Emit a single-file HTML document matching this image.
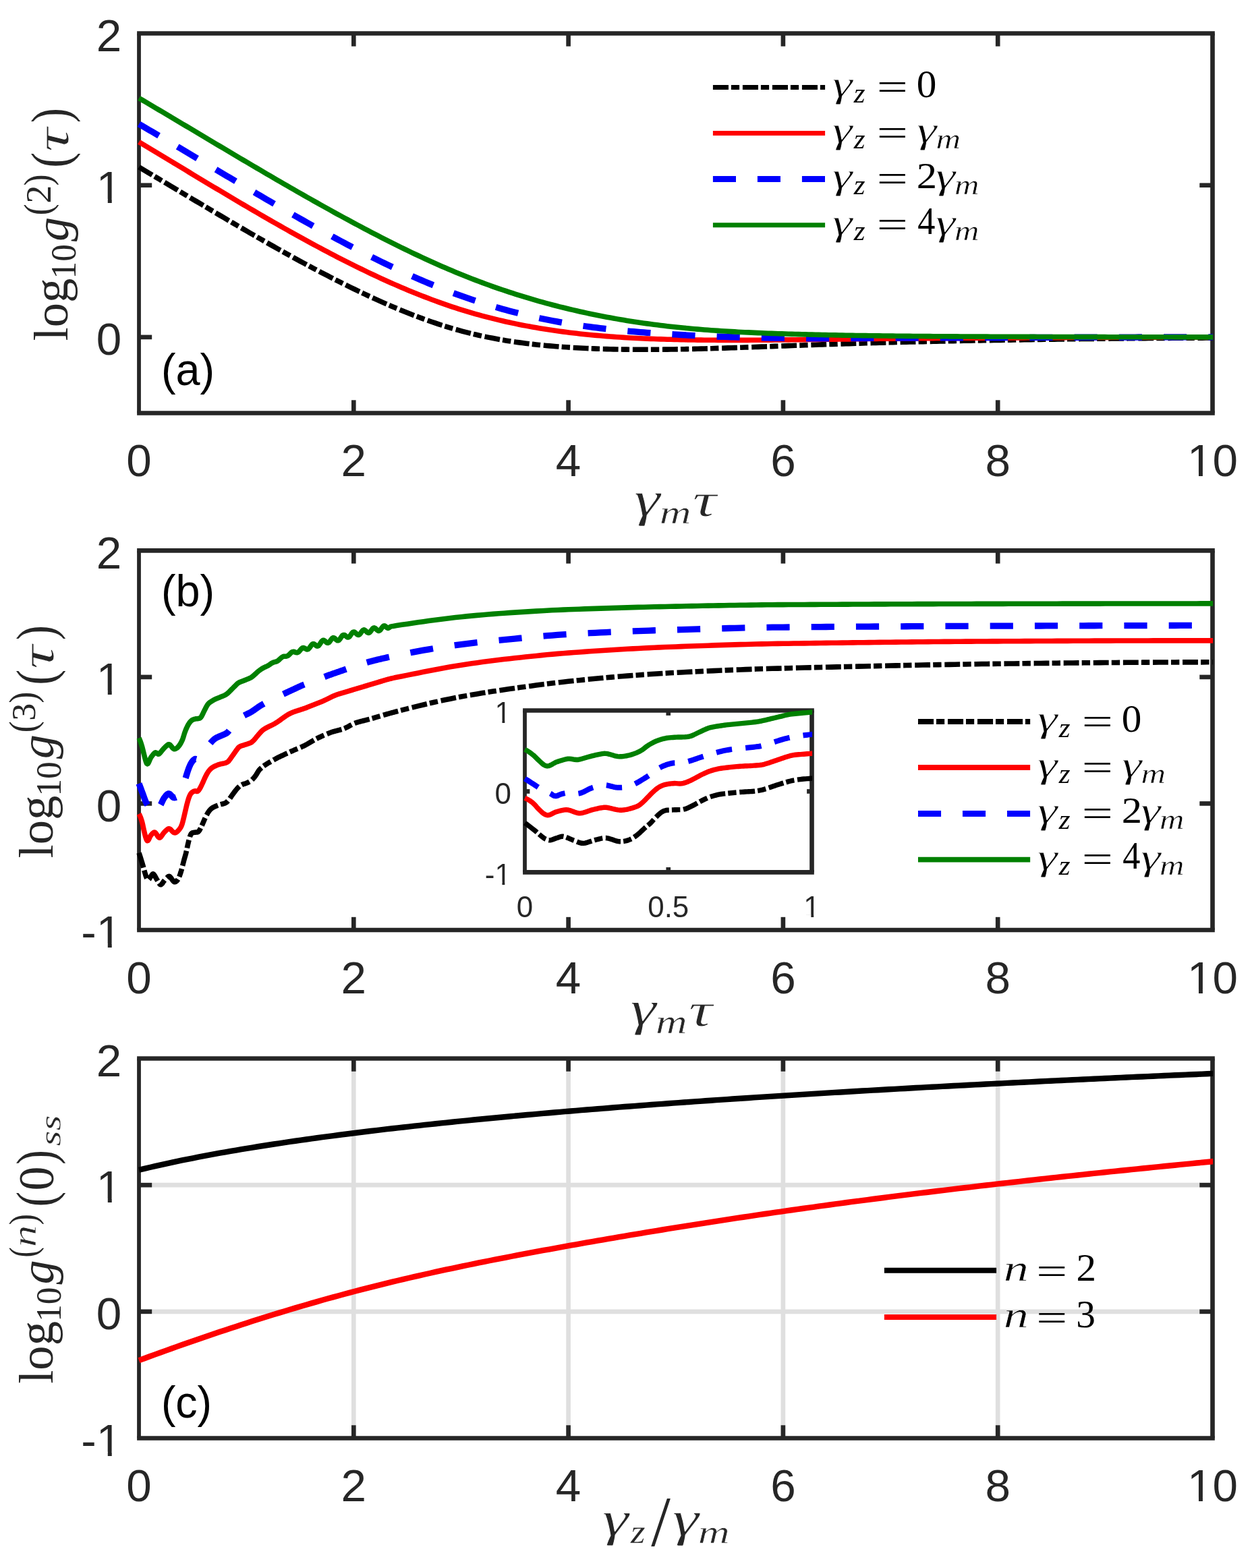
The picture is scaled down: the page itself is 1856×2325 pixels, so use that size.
<!DOCTYPE html>
<html lang="en">
<head>
<meta charset="utf-8">
<title>Correlation functions</title>
<style>
html,body{margin:0;padding:0;background:#fff;}
body{width:1856px;height:2325px;overflow:hidden;}
svg{display:block;}
text{white-space:pre;}
.sans{font-family:"Liberation Sans",sans-serif;}
.rm{font-family:"Liberation Serif",serif;}
.it{font-family:"Liberation Serif",serif;font-style:italic;}
</style>
</head>
<body>
<svg xmlns="http://www.w3.org/2000/svg" width="1856" height="2325" viewBox="0 0 1856 2325">
<defs>
<clipPath id="cI"><rect x="774.70" y="1050.20" width="429.40" height="246.50"/></clipPath>
<clipPath id="cA"><rect x="200.00" y="46.20" width="1598.10" height="569.60"/></clipPath>
<clipPath id="cB"><rect x="200.00" y="813.10" width="1598.10" height="569.20"/></clipPath>
<clipPath id="cC"><rect x="200.00" y="1566.20" width="1598.10" height="569.60"/></clipPath>
<clipPath id="t1"><rect x="1765.41" y="638.80" width="17.66" height="61.47"/><rect x="1776.97" y="699.46" width="5.96" height="8.09"/><rect x="1797.50" y="638.80" width="37.48" height="87.62"/></clipPath>
<clipPath id="t2"><rect x="148.21" y="233.50" width="17.66" height="61.47"/><rect x="159.77" y="294.16" width="5.96" height="8.09"/></clipPath>
<clipPath id="t3"><rect x="1765.41" y="1405.30" width="17.66" height="61.47"/><rect x="1776.97" y="1465.96" width="5.96" height="8.09"/><rect x="1797.50" y="1405.30" width="37.48" height="87.62"/></clipPath>
<clipPath id="t4"><rect x="120.37" y="1337.80" width="22.44" height="87.62"/><rect x="148.21" y="1337.80" width="17.66" height="61.47"/><rect x="159.77" y="1398.46" width="5.96" height="8.09"/></clipPath>
<clipPath id="t5"><rect x="148.21" y="962.73" width="17.66" height="61.47"/><rect x="159.77" y="1023.39" width="5.96" height="8.09"/></clipPath>
<clipPath id="t6"><rect x="1194.80" y="1316.30" width="11.50" height="40.04"/><rect x="1202.33" y="1355.81" width="3.88" height="5.27"/></clipPath>
<clipPath id="t7"><rect x="718.77" y="1267.80" width="14.62" height="57.07"/><rect x="736.90" y="1267.80" width="11.50" height="40.04"/><rect x="744.43" y="1307.31" width="3.88" height="5.27"/></clipPath>
<clipPath id="t8"><rect x="736.90" y="1027.90" width="11.50" height="40.04"/><rect x="744.43" y="1067.41" width="3.88" height="5.27"/></clipPath>
<clipPath id="t9"><rect x="1765.41" y="2158.80" width="17.66" height="61.47"/><rect x="1776.97" y="2219.46" width="5.96" height="8.09"/><rect x="1797.50" y="2158.80" width="37.48" height="87.62"/></clipPath>
<clipPath id="t10"><rect x="120.37" y="2091.30" width="22.44" height="87.62"/><rect x="148.21" y="2091.30" width="17.66" height="61.47"/><rect x="159.77" y="2151.96" width="5.96" height="8.09"/></clipPath>
<clipPath id="t11"><rect x="148.21" y="1715.97" width="17.66" height="61.47"/><rect x="159.77" y="1776.63" width="5.96" height="8.09"/></clipPath>
</defs>
<rect width="1856" height="2325" fill="#ffffff"/>
<g id="panel-a">
<line x1="524.30" y1="612.50" x2="524.30" y2="593.30" stroke="#262626" stroke-width="6.65"/>
<line x1="524.30" y1="49.50" x2="524.30" y2="68.70" stroke="#262626" stroke-width="6.65"/>
<line x1="842.60" y1="612.50" x2="842.60" y2="593.30" stroke="#262626" stroke-width="6.65"/>
<line x1="842.60" y1="49.50" x2="842.60" y2="68.70" stroke="#262626" stroke-width="6.65"/>
<line x1="1160.90" y1="612.50" x2="1160.90" y2="593.30" stroke="#262626" stroke-width="6.65"/>
<line x1="1160.90" y1="49.50" x2="1160.90" y2="68.70" stroke="#262626" stroke-width="6.65"/>
<line x1="1479.20" y1="612.50" x2="1479.20" y2="593.30" stroke="#262626" stroke-width="6.65"/>
<line x1="1479.20" y1="49.50" x2="1479.20" y2="68.70" stroke="#262626" stroke-width="6.65"/>
<line x1="206.00" y1="499.90" x2="225.20" y2="499.90" stroke="#262626" stroke-width="6.65"/>
<line x1="1797.50" y1="499.90" x2="1778.30" y2="499.90" stroke="#262626" stroke-width="6.65"/>
<line x1="206.00" y1="274.70" x2="225.20" y2="274.70" stroke="#262626" stroke-width="6.65"/>
<line x1="1797.50" y1="274.70" x2="1778.30" y2="274.70" stroke="#262626" stroke-width="6.65"/>
<line x1="203.10" y1="49.50" x2="1800.83" y2="49.50" stroke="#262626" stroke-width="6.65"/>
<line x1="203.10" y1="612.50" x2="1800.83" y2="612.50" stroke="#262626" stroke-width="6.65"/>
<line x1="206.00" y1="49.50" x2="206.00" y2="612.50" stroke="#262626" stroke-width="5.8"/>
<line x1="1797.50" y1="49.50" x2="1797.50" y2="612.50" stroke="#262626" stroke-width="6.65"/>
<path d="M206.00 247.79 L210.99 250.75 L215.98 253.71 L220.97 256.68 L225.96 259.65 L230.95 262.62 L235.93 265.60 L240.92 268.57 L245.91 271.55 L250.90 274.53 L255.89 277.52 L260.88 280.50 L265.87 283.48 L270.86 286.47 L275.85 289.45 L280.84 292.43 L285.82 295.41 L290.81 298.38 L295.80 301.36 L300.79 304.33 L305.78 307.30 L310.77 310.27 L315.76 313.23 L320.75 316.19 L325.74 319.14 L330.73 322.09 L335.71 325.03 L340.70 327.97 L345.69 330.90 L350.68 333.82 L355.67 336.74 L360.66 339.65 L365.65 342.55 L370.64 345.44 L375.63 348.33 L380.62 351.20 L385.61 354.07 L390.59 356.92 L395.58 359.77 L400.57 362.60 L405.56 365.42 L410.55 368.24 L415.54 371.03 L420.53 373.82 L425.52 376.60 L430.51 379.36 L435.50 382.10 L440.48 384.84 L445.47 387.56 L450.46 390.26 L455.45 392.95 L460.44 395.62 L465.43 398.28 L470.42 400.92 L475.41 403.55 L480.40 406.15 L485.39 408.74 L490.37 411.31 L495.36 413.87 L500.35 416.40 L505.34 418.91 L510.33 421.41 L515.32 423.88 L520.31 426.34 L525.30 428.77 L530.29 431.18 L535.28 433.57 L540.26 435.94 L545.25 438.28 L550.24 440.60 L555.23 442.90 L560.22 445.16 L565.21 447.40 L570.20 449.62 L575.19 451.80 L580.18 453.95 L585.17 456.08 L590.16 458.17 L595.14 460.24 L600.13 462.27 L605.12 464.26 L610.11 466.23 L615.10 468.16 L620.09 470.05 L625.08 471.91 L630.07 473.73 L635.06 475.51 L640.05 477.25 L645.03 478.95 L650.02 480.62 L655.01 482.24 L660.00 483.82 L664.99 485.36 L669.98 486.85 L674.97 488.30 L679.96 489.71 L684.95 491.07 L689.94 492.38 L694.92 493.65 L699.91 494.88 L704.90 496.06 L709.89 497.20 L714.88 498.30 L719.87 499.35 L724.86 500.37 L729.85 501.35 L734.84 502.29 L739.83 503.19 L744.82 504.06 L749.80 504.89 L754.79 505.68 L759.78 506.45 L764.77 507.18 L769.76 507.87 L774.75 508.54 L779.74 509.18 L784.73 509.79 L789.72 510.36 L794.71 510.92 L799.69 511.44 L804.68 511.94 L809.67 512.42 L814.66 512.87 L819.65 513.29 L824.64 513.70 L829.63 514.08 L834.62 514.45 L839.61 514.79 L844.60 515.12 L849.58 515.42 L854.57 515.71 L859.56 515.99 L864.55 516.24 L869.54 516.48 L874.53 516.70 L879.52 516.91 L884.51 517.10 L889.50 517.28 L894.49 517.44 L899.47 517.58 L904.46 517.71 L909.45 517.83 L914.44 517.94 L919.43 518.03 L924.42 518.11 L929.41 518.17 L934.40 518.22 L939.39 518.27 L944.38 518.29 L949.37 518.31 L954.35 518.32 L959.34 518.32 L964.33 518.31 L969.32 518.28 L974.31 518.25 L979.30 518.21 L984.29 518.16 L989.28 518.10 L994.27 518.03 L999.26 517.96 L1004.24 517.87 L1009.23 517.78 L1014.22 517.69 L1019.21 517.58 L1024.20 517.47 L1029.19 517.36 L1034.18 517.24 L1039.17 517.11 L1044.16 516.98 L1049.15 516.84 L1054.13 516.70 L1059.12 516.55 L1064.11 516.40 L1069.10 516.24 L1074.09 516.08 L1079.08 515.92 L1084.07 515.75 L1089.06 515.58 L1094.05 515.41 L1099.04 515.24 L1104.03 515.06 L1109.01 514.88 L1114.00 514.70 L1118.99 514.52 L1123.98 514.33 L1128.97 514.15 L1133.96 513.96 L1138.95 513.78 L1143.94 513.59 L1148.93 513.41 L1153.92 513.22 L1158.90 513.04 L1163.89 512.85 L1168.88 512.67 L1173.87 512.49 L1178.86 512.30 L1183.85 512.13 L1188.84 511.95 L1193.83 511.77 L1198.82 511.59 L1203.81 511.42 L1208.79 511.24 L1213.78 511.07 L1218.77 510.90 L1223.76 510.73 L1228.75 510.56 L1233.74 510.39 L1238.73 510.23 L1243.72 510.06 L1248.71 509.90 L1253.70 509.74 L1258.68 509.58 L1263.67 509.43 L1268.66 509.27 L1273.65 509.12 L1278.64 508.97 L1283.63 508.82 L1288.62 508.67 L1293.61 508.52 L1298.60 508.38 L1303.59 508.24 L1308.58 508.10 L1313.56 507.96 L1318.55 507.82 L1323.54 507.69 L1328.53 507.56 L1333.52 507.43 L1338.51 507.30 L1343.50 507.18 L1348.49 507.05 L1353.48 506.93 L1358.47 506.81 L1363.45 506.70 L1368.44 506.58 L1373.43 506.47 L1378.42 506.36 L1383.41 506.25 L1388.40 506.14 L1393.39 506.03 L1398.38 505.93 L1403.37 505.82 L1408.36 505.72 L1413.34 505.62 L1418.33 505.52 L1423.32 505.42 L1428.31 505.32 L1433.30 505.23 L1438.29 505.14 L1443.28 505.04 L1448.27 504.95 L1453.26 504.86 L1458.25 504.77 L1463.24 504.68 L1468.22 504.59 L1473.21 504.51 L1478.20 504.42 L1483.19 504.34 L1488.18 504.25 L1493.17 504.17 L1498.16 504.09 L1503.15 504.00 L1508.14 503.92 L1513.13 503.84 L1518.11 503.76 L1523.10 503.69 L1528.09 503.61 L1533.08 503.53 L1538.07 503.46 L1543.06 503.38 L1548.05 503.31 L1553.04 503.24 L1558.03 503.17 L1563.02 503.09 L1568.00 503.03 L1572.99 502.96 L1577.98 502.89 L1582.97 502.82 L1587.96 502.76 L1592.95 502.69 L1597.94 502.63 L1602.93 502.57 L1607.92 502.50 L1612.91 502.44 L1617.89 502.38 L1622.88 502.33 L1627.87 502.27 L1632.86 502.21 L1637.85 502.16 L1642.84 502.10 L1647.83 502.05 L1652.82 502.00 L1657.81 501.95 L1662.80 501.90 L1667.79 501.85 L1672.77 501.80 L1677.76 501.76 L1682.75 501.71 L1687.74 501.67 L1692.73 501.63 L1697.72 501.59 L1702.71 501.55 L1707.70 501.51 L1712.69 501.47 L1717.68 501.43 L1722.66 501.40 L1727.65 501.36 L1732.64 501.33 L1737.63 501.30 L1742.62 501.27 L1747.61 501.24 L1752.60 501.21 L1757.59 501.19 L1762.58 501.16 L1767.57 501.14 L1772.55 501.12 L1777.54 501.10 L1782.53 501.08 L1787.52 501.06 L1792.51 501.04 L1797.50 501.03 L1803.50 501.01" fill="none" stroke="#000000" stroke-width="7.6" stroke-linejoin="round" stroke-dasharray="22.9 4.1 12.4 4.7" clip-path="url(#cA)"/>
<path d="M206.00 210.61 L210.99 213.59 L215.98 216.57 L220.97 219.56 L225.96 222.56 L230.95 225.55 L235.93 228.55 L240.92 231.56 L245.91 234.56 L250.90 237.57 L255.89 240.58 L260.88 243.59 L265.87 246.60 L270.86 249.61 L275.85 252.62 L280.84 255.62 L285.82 258.63 L290.81 261.64 L295.80 264.64 L300.79 267.65 L305.78 270.65 L310.77 273.64 L315.76 276.64 L320.75 279.63 L325.74 282.61 L330.73 285.59 L335.71 288.57 L340.70 291.54 L345.69 294.51 L350.68 297.46 L355.67 300.41 L360.66 303.36 L365.65 306.30 L370.64 309.23 L375.63 312.15 L380.62 315.06 L385.61 317.96 L390.59 320.85 L395.58 323.74 L400.57 326.61 L405.56 329.47 L410.55 332.32 L415.54 335.16 L420.53 337.99 L425.52 340.80 L430.51 343.61 L435.50 346.40 L440.48 349.17 L445.47 351.93 L450.46 354.68 L455.45 357.41 L460.44 360.13 L465.43 362.83 L470.42 365.51 L475.41 368.18 L480.40 370.83 L485.39 373.47 L490.37 376.09 L495.36 378.68 L500.35 381.27 L505.34 383.83 L510.33 386.37 L515.32 388.89 L520.31 391.39 L525.30 393.88 L530.29 396.34 L535.28 398.78 L540.26 401.19 L545.25 403.59 L550.24 405.96 L555.23 408.31 L560.22 410.63 L565.21 412.93 L570.20 415.21 L575.19 417.46 L580.18 419.69 L585.17 421.88 L590.16 424.06 L595.14 426.20 L600.13 428.32 L605.12 430.41 L610.11 432.47 L615.10 434.50 L620.09 436.50 L625.08 438.47 L630.07 440.41 L635.06 442.32 L640.05 444.20 L645.03 446.05 L650.02 447.86 L655.01 449.64 L660.00 451.39 L664.99 453.10 L669.98 454.78 L674.97 456.43 L679.96 458.03 L684.95 459.61 L689.94 461.14 L694.92 462.65 L699.91 464.11 L704.90 465.54 L709.89 466.94 L714.88 468.30 L719.87 469.63 L724.86 470.93 L729.85 472.19 L734.84 473.42 L739.83 474.62 L744.82 475.79 L749.80 476.92 L754.79 478.03 L759.78 479.11 L764.77 480.15 L769.76 481.17 L774.75 482.16 L779.74 483.11 L784.73 484.04 L789.72 484.95 L794.71 485.82 L799.69 486.67 L804.68 487.49 L809.67 488.29 L814.66 489.06 L819.65 489.81 L824.64 490.53 L829.63 491.22 L834.62 491.89 L839.61 492.54 L844.60 493.17 L849.58 493.77 L854.57 494.35 L859.56 494.91 L864.55 495.44 L869.54 495.96 L874.53 496.45 L879.52 496.93 L884.51 497.38 L889.50 497.82 L894.49 498.24 L899.47 498.64 L904.46 499.02 L909.45 499.38 L914.44 499.73 L919.43 500.06 L924.42 500.37 L929.41 500.67 L934.40 500.95 L939.39 501.22 L944.38 501.47 L949.37 501.71 L954.35 501.94 L959.34 502.15 L964.33 502.35 L969.32 502.54 L974.31 502.72 L979.30 502.89 L984.29 503.04 L989.28 503.18 L994.27 503.32 L999.26 503.44 L1004.24 503.56 L1009.23 503.67 L1014.22 503.77 L1019.21 503.86 L1024.20 503.94 L1029.19 504.01 L1034.18 504.08 L1039.17 504.14 L1044.16 504.19 L1049.15 504.24 L1054.13 504.28 L1059.12 504.31 L1064.11 504.34 L1069.10 504.36 L1074.09 504.37 L1079.08 504.38 L1084.07 504.38 L1089.06 504.38 L1094.05 504.38 L1099.04 504.37 L1104.03 504.35 L1109.01 504.33 L1114.00 504.31 L1118.99 504.28 L1123.98 504.25 L1128.97 504.22 L1133.96 504.19 L1138.95 504.15 L1143.94 504.11 L1148.93 504.06 L1153.92 504.02 L1158.90 503.97 L1163.89 503.92 L1168.88 503.87 L1173.87 503.82 L1178.86 503.77 L1183.85 503.72 L1188.84 503.66 L1193.83 503.61 L1198.82 503.55 L1203.81 503.50 L1208.79 503.44 L1213.78 503.38 L1218.77 503.32 L1223.76 503.26 L1228.75 503.20 L1233.74 503.14 L1238.73 503.08 L1243.72 503.02 L1248.71 502.96 L1253.70 502.90 L1258.68 502.84 L1263.67 502.78 L1268.66 502.72 L1273.65 502.67 L1278.64 502.61 L1283.63 502.55 L1288.62 502.49 L1293.61 502.44 L1298.60 502.38 L1303.59 502.32 L1308.58 502.27 L1313.56 502.22 L1318.55 502.17 L1323.54 502.12 L1328.53 502.07 L1333.52 502.02 L1338.51 501.97 L1343.50 501.93 L1348.49 501.88 L1353.48 501.84 L1358.47 501.80 L1363.45 501.76 L1368.44 501.72 L1373.43 501.68 L1378.42 501.64 L1383.41 501.60 L1388.40 501.57 L1393.39 501.53 L1398.38 501.50 L1403.37 501.46 L1408.36 501.43 L1413.34 501.40 L1418.33 501.37 L1423.32 501.34 L1428.31 501.31 L1433.30 501.28 L1438.29 501.25 L1443.28 501.22 L1448.27 501.19 L1453.26 501.16 L1458.25 501.14 L1463.24 501.11 L1468.22 501.08 L1473.21 501.06 L1478.20 501.03 L1483.19 501.01 L1488.18 500.98 L1493.17 500.96 L1498.16 500.93 L1503.15 500.91 L1508.14 500.88 L1513.13 500.86 L1518.11 500.84 L1523.10 500.81 L1528.09 500.79 L1533.08 500.77 L1538.07 500.75 L1543.06 500.72 L1548.05 500.70 L1553.04 500.68 L1558.03 500.66 L1563.02 500.64 L1568.00 500.62 L1572.99 500.60 L1577.98 500.58 L1582.97 500.56 L1587.96 500.54 L1592.95 500.52 L1597.94 500.50 L1602.93 500.48 L1607.92 500.46 L1612.91 500.44 L1617.89 500.42 L1622.88 500.41 L1627.87 500.39 L1632.86 500.37 L1637.85 500.35 L1642.84 500.33 L1647.83 500.32 L1652.82 500.30 L1657.81 500.28 L1662.80 500.27 L1667.79 500.25 L1672.77 500.24 L1677.76 500.22 L1682.75 500.21 L1687.74 500.19 L1692.73 500.17 L1697.72 500.16 L1702.71 500.14 L1707.70 500.13 L1712.69 500.12 L1717.68 500.10 L1722.66 500.09 L1727.65 500.07 L1732.64 500.06 L1737.63 500.05 L1742.62 500.03 L1747.61 500.02 L1752.60 500.01 L1757.59 500.00 L1762.58 499.98 L1767.57 499.97 L1772.55 499.96 L1777.54 499.95 L1782.53 499.93 L1787.52 499.92 L1792.51 499.91 L1797.50 499.90 L1803.50 499.89" fill="none" stroke="#ff0000" stroke-width="7.6" stroke-linejoin="round" clip-path="url(#cA)"/>
<path d="M206.00 183.94 L210.99 186.84 L215.98 189.74 L220.97 192.65 L225.96 195.56 L230.95 198.48 L235.93 201.41 L240.92 204.34 L245.91 207.28 L250.90 210.23 L255.89 213.17 L260.88 216.13 L265.87 219.08 L270.86 222.04 L275.85 225.00 L280.84 227.97 L285.82 230.94 L290.81 233.91 L295.80 236.88 L300.79 239.85 L305.78 242.82 L310.77 245.79 L315.76 248.76 L320.75 251.73 L325.74 254.70 L330.73 257.67 L335.71 260.64 L340.70 263.60 L345.69 266.56 L350.68 269.52 L355.67 272.47 L360.66 275.43 L365.65 278.37 L370.64 281.31 L375.63 284.25 L380.62 287.18 L385.61 290.11 L390.59 293.03 L395.58 295.94 L400.57 298.85 L405.56 301.74 L410.55 304.63 L415.54 307.51 L420.53 310.39 L425.52 313.25 L430.51 316.11 L435.50 318.95 L440.48 321.78 L445.47 324.61 L450.46 327.42 L455.45 330.22 L460.44 333.01 L465.43 335.79 L470.42 338.55 L475.41 341.30 L480.40 344.04 L485.39 346.76 L490.37 349.47 L495.36 352.17 L500.35 354.85 L505.34 357.51 L510.33 360.16 L515.32 362.79 L520.31 365.40 L525.30 368.00 L530.29 370.58 L535.28 373.14 L540.26 375.69 L545.25 378.21 L550.24 380.72 L555.23 383.20 L560.22 385.67 L565.21 388.11 L570.20 390.53 L575.19 392.93 L580.18 395.31 L585.17 397.66 L590.16 399.99 L595.14 402.30 L600.13 404.58 L605.12 406.84 L610.11 409.07 L615.10 411.28 L620.09 413.46 L625.08 415.62 L630.07 417.74 L635.06 419.84 L640.05 421.91 L645.03 423.95 L650.02 425.96 L655.01 427.94 L660.00 429.89 L664.99 431.82 L669.98 433.70 L674.97 435.56 L679.96 437.39 L684.95 439.18 L689.94 440.94 L694.92 442.67 L699.91 444.36 L704.90 446.02 L709.89 447.65 L714.88 449.25 L719.87 450.81 L724.86 452.35 L729.85 453.85 L734.84 455.32 L739.83 456.76 L744.82 458.17 L749.80 459.55 L754.79 460.90 L759.78 462.21 L764.77 463.50 L769.76 464.76 L774.75 465.99 L779.74 467.19 L784.73 468.36 L789.72 469.50 L794.71 470.61 L799.69 471.69 L804.68 472.75 L809.67 473.77 L814.66 474.77 L819.65 475.74 L824.64 476.69 L829.63 477.60 L834.62 478.49 L839.61 479.35 L844.60 480.19 L849.58 481.00 L854.57 481.78 L859.56 482.54 L864.55 483.27 L869.54 483.98 L874.53 484.66 L879.52 485.33 L884.51 485.97 L889.50 486.59 L894.49 487.18 L899.47 487.76 L904.46 488.32 L909.45 488.86 L914.44 489.37 L919.43 489.88 L924.42 490.36 L929.41 490.83 L934.40 491.28 L939.39 491.71 L944.38 492.13 L949.37 492.54 L954.35 492.93 L959.34 493.31 L964.33 493.67 L969.32 494.03 L974.31 494.37 L979.30 494.70 L984.29 495.02 L989.28 495.33 L994.27 495.63 L999.26 495.93 L1004.24 496.21 L1009.23 496.49 L1014.22 496.76 L1019.21 497.02 L1024.20 497.28 L1029.19 497.53 L1034.18 497.77 L1039.17 498.00 L1044.16 498.23 L1049.15 498.45 L1054.13 498.66 L1059.12 498.86 L1064.11 499.06 L1069.10 499.25 L1074.09 499.43 L1079.08 499.60 L1084.07 499.77 L1089.06 499.93 L1094.05 500.09 L1099.04 500.23 L1104.03 500.37 L1109.01 500.50 L1114.00 500.63 L1118.99 500.75 L1123.98 500.86 L1128.97 500.97 L1133.96 501.06 L1138.95 501.15 L1143.94 501.24 L1148.93 501.32 L1153.92 501.39 L1158.90 501.45 L1163.89 501.51 L1168.88 501.56 L1173.87 501.61 L1178.86 501.65 L1183.85 501.68 L1188.84 501.71 L1193.83 501.73 L1198.82 501.75 L1203.81 501.76 L1208.79 501.77 L1213.78 501.77 L1218.77 501.77 L1223.76 501.76 L1228.75 501.76 L1233.74 501.74 L1238.73 501.73 L1243.72 501.71 L1248.71 501.69 L1253.70 501.67 L1258.68 501.64 L1263.67 501.62 L1268.66 501.59 L1273.65 501.56 L1278.64 501.53 L1283.63 501.49 L1288.62 501.46 L1293.61 501.43 L1298.60 501.39 L1303.59 501.36 L1308.58 501.33 L1313.56 501.29 L1318.55 501.26 L1323.54 501.23 L1328.53 501.20 L1333.52 501.17 L1338.51 501.14 L1343.50 501.11 L1348.49 501.08 L1353.48 501.06 L1358.47 501.03 L1363.45 501.01 L1368.44 500.98 L1373.43 500.96 L1378.42 500.94 L1383.41 500.92 L1388.40 500.89 L1393.39 500.87 L1398.38 500.85 L1403.37 500.83 L1408.36 500.81 L1413.34 500.80 L1418.33 500.78 L1423.32 500.76 L1428.31 500.74 L1433.30 500.72 L1438.29 500.71 L1443.28 500.69 L1448.27 500.67 L1453.26 500.66 L1458.25 500.64 L1463.24 500.63 L1468.22 500.61 L1473.21 500.59 L1478.20 500.58 L1483.19 500.56 L1488.18 500.55 L1493.17 500.53 L1498.16 500.52 L1503.15 500.50 L1508.14 500.49 L1513.13 500.47 L1518.11 500.46 L1523.10 500.44 L1528.09 500.43 L1533.08 500.41 L1538.07 500.40 L1543.06 500.38 L1548.05 500.37 L1553.04 500.35 L1558.03 500.34 L1563.02 500.32 L1568.00 500.31 L1572.99 500.29 L1577.98 500.28 L1582.97 500.27 L1587.96 500.25 L1592.95 500.24 L1597.94 500.23 L1602.93 500.21 L1607.92 500.20 L1612.91 500.19 L1617.89 500.17 L1622.88 500.16 L1627.87 500.15 L1632.86 500.14 L1637.85 500.13 L1642.84 500.11 L1647.83 500.10 L1652.82 500.09 L1657.81 500.08 L1662.80 500.07 L1667.79 500.06 L1672.77 500.05 L1677.76 500.04 L1682.75 500.03 L1687.74 500.02 L1692.73 500.01 L1697.72 500.00 L1702.71 500.00 L1707.70 499.99 L1712.69 499.98 L1717.68 499.97 L1722.66 499.97 L1727.65 499.96 L1732.64 499.95 L1737.63 499.95 L1742.62 499.94 L1747.61 499.93 L1752.60 499.93 L1757.59 499.92 L1762.58 499.92 L1767.57 499.92 L1772.55 499.91 L1777.54 499.91 L1782.53 499.91 L1787.52 499.90 L1792.51 499.90 L1797.50 499.90 L1803.50 499.90" fill="none" stroke="#0000ff" stroke-width="9.3" stroke-linejoin="round" stroke-dasharray="34.2 32.05" clip-path="url(#cA)"/>
<path d="M206.00 145.44 L210.99 148.37 L215.98 151.31 L220.97 154.26 L225.96 157.21 L230.95 160.16 L235.93 163.11 L240.92 166.07 L245.91 169.04 L250.90 172.00 L255.89 174.97 L260.88 177.94 L265.87 180.91 L270.86 183.89 L275.85 186.86 L280.84 189.84 L285.82 192.81 L290.81 195.79 L295.80 198.77 L300.79 201.75 L305.78 204.72 L310.77 207.70 L315.76 210.67 L320.75 213.65 L325.74 216.62 L330.73 219.59 L335.71 222.56 L340.70 225.53 L345.69 228.49 L350.68 231.45 L355.67 234.41 L360.66 237.36 L365.65 240.31 L370.64 243.26 L375.63 246.20 L380.62 249.14 L385.61 252.07 L390.59 255.00 L395.58 257.92 L400.57 260.84 L405.56 263.75 L410.55 266.66 L415.54 269.55 L420.53 272.44 L425.52 275.33 L430.51 278.21 L435.50 281.07 L440.48 283.93 L445.47 286.79 L450.46 289.63 L455.45 292.47 L460.44 295.29 L465.43 298.11 L470.42 300.92 L475.41 303.72 L480.40 306.50 L485.39 309.28 L490.37 312.05 L495.36 314.80 L500.35 317.55 L505.34 320.28 L510.33 323.00 L515.32 325.71 L520.31 328.40 L525.30 331.09 L530.29 333.76 L535.28 336.41 L540.26 339.05 L545.25 341.68 L550.24 344.30 L555.23 346.89 L560.22 349.48 L565.21 352.04 L570.20 354.59 L575.19 357.12 L580.18 359.64 L585.17 362.13 L590.16 364.61 L595.14 367.07 L600.13 369.50 L605.12 371.92 L610.11 374.32 L615.10 376.70 L620.09 379.05 L625.08 381.39 L630.07 383.70 L635.06 385.98 L640.05 388.25 L645.03 390.49 L650.02 392.71 L655.01 394.90 L660.00 397.06 L664.99 399.20 L669.98 401.32 L674.97 403.41 L679.96 405.47 L684.95 407.50 L689.94 409.50 L694.92 411.48 L699.91 413.43 L704.90 415.35 L709.89 417.25 L714.88 419.12 L719.87 420.96 L724.86 422.77 L729.85 424.56 L734.84 426.32 L739.83 428.05 L744.82 429.75 L749.80 431.43 L754.79 433.09 L759.78 434.71 L764.77 436.32 L769.76 437.89 L774.75 439.44 L779.74 440.96 L784.73 442.46 L789.72 443.94 L794.71 445.38 L799.69 446.81 L804.68 448.20 L809.67 449.57 L814.66 450.92 L819.65 452.24 L824.64 453.54 L829.63 454.82 L834.62 456.06 L839.61 457.29 L844.60 458.49 L849.58 459.67 L854.57 460.82 L859.56 461.95 L864.55 463.06 L869.54 464.14 L874.53 465.20 L879.52 466.23 L884.51 467.25 L889.50 468.24 L894.49 469.21 L899.47 470.16 L904.46 471.08 L909.45 471.99 L914.44 472.87 L919.43 473.73 L924.42 474.57 L929.41 475.39 L934.40 476.19 L939.39 476.97 L944.38 477.72 L949.37 478.46 L954.35 479.18 L959.34 479.88 L964.33 480.56 L969.32 481.21 L974.31 481.85 L979.30 482.47 L984.29 483.08 L989.28 483.66 L994.27 484.22 L999.26 484.77 L1004.24 485.30 L1009.23 485.81 L1014.22 486.30 L1019.21 486.78 L1024.20 487.24 L1029.19 487.68 L1034.18 488.11 L1039.17 488.52 L1044.16 488.92 L1049.15 489.30 L1054.13 489.67 L1059.12 490.03 L1064.11 490.37 L1069.10 490.70 L1074.09 491.02 L1079.08 491.32 L1084.07 491.62 L1089.06 491.90 L1094.05 492.17 L1099.04 492.43 L1104.03 492.68 L1109.01 492.92 L1114.00 493.15 L1118.99 493.37 L1123.98 493.59 L1128.97 493.79 L1133.96 493.99 L1138.95 494.18 L1143.94 494.37 L1148.93 494.54 L1153.92 494.71 L1158.90 494.88 L1163.89 495.04 L1168.88 495.20 L1173.87 495.35 L1178.86 495.49 L1183.85 495.64 L1188.84 495.77 L1193.83 495.90 L1198.82 496.03 L1203.81 496.16 L1208.79 496.28 L1213.78 496.39 L1218.77 496.50 L1223.76 496.61 L1228.75 496.71 L1233.74 496.82 L1238.73 496.91 L1243.72 497.01 L1248.71 497.10 L1253.70 497.18 L1258.68 497.27 L1263.67 497.35 L1268.66 497.43 L1273.65 497.50 L1278.64 497.58 L1283.63 497.65 L1288.62 497.72 L1293.61 497.78 L1298.60 497.85 L1303.59 497.91 L1308.58 497.97 L1313.56 498.03 L1318.55 498.08 L1323.54 498.14 L1328.53 498.19 L1333.52 498.24 L1338.51 498.29 L1343.50 498.34 L1348.49 498.39 L1353.48 498.43 L1358.47 498.48 L1363.45 498.52 L1368.44 498.56 L1373.43 498.60 L1378.42 498.64 L1383.41 498.68 L1388.40 498.72 L1393.39 498.75 L1398.38 498.79 L1403.37 498.82 L1408.36 498.85 L1413.34 498.89 L1418.33 498.92 L1423.32 498.95 L1428.31 498.98 L1433.30 499.00 L1438.29 499.03 L1443.28 499.06 L1448.27 499.08 L1453.26 499.11 L1458.25 499.13 L1463.24 499.15 L1468.22 499.18 L1473.21 499.20 L1478.20 499.22 L1483.19 499.24 L1488.18 499.26 L1493.17 499.28 L1498.16 499.30 L1503.15 499.32 L1508.14 499.34 L1513.13 499.36 L1518.11 499.37 L1523.10 499.39 L1528.09 499.41 L1533.08 499.42 L1538.07 499.44 L1543.06 499.45 L1548.05 499.47 L1553.04 499.48 L1558.03 499.50 L1563.02 499.51 L1568.00 499.52 L1572.99 499.54 L1577.98 499.55 L1582.97 499.56 L1587.96 499.57 L1592.95 499.58 L1597.94 499.59 L1602.93 499.61 L1607.92 499.62 L1612.91 499.63 L1617.89 499.64 L1622.88 499.65 L1627.87 499.66 L1632.86 499.66 L1637.85 499.67 L1642.84 499.68 L1647.83 499.69 L1652.82 499.70 L1657.81 499.71 L1662.80 499.72 L1667.79 499.72 L1672.77 499.73 L1677.76 499.74 L1682.75 499.75 L1687.74 499.75 L1692.73 499.76 L1697.72 499.77 L1702.71 499.77 L1707.70 499.78 L1712.69 499.79 L1717.68 499.79 L1722.66 499.80 L1727.65 499.81 L1732.64 499.81 L1737.63 499.82 L1742.62 499.83 L1747.61 499.83 L1752.60 499.84 L1757.59 499.85 L1762.58 499.85 L1767.57 499.86 L1772.55 499.87 L1777.54 499.87 L1782.53 499.88 L1787.52 499.89 L1792.51 499.89 L1797.50 499.90 L1803.50 499.91" fill="none" stroke="#008000" stroke-width="7.6" stroke-linejoin="round" clip-path="url(#cA)"/>
<text class="sans" font-size="67.40" x="187.26" y="706.20" fill="#262626">0</text>
<text class="sans" font-size="67.40" x="505.56" y="706.20" fill="#262626">2</text>
<text class="sans" font-size="67.40" x="823.86" y="706.20" fill="#262626">4</text>
<text class="sans" font-size="67.40" x="1142.16" y="706.20" fill="#262626">6</text>
<text class="sans" font-size="67.40" x="1460.46" y="706.20" fill="#262626">8</text>
<text class="sans" font-size="67.40" x="1760.02" y="706.20" fill="#262626" clip-path="url(#t1)">10</text>
<text class="sans" font-size="67.40" x="142.82" y="526.10" fill="#262626">0</text>
<text class="sans" font-size="67.40" x="142.82" y="300.90" fill="#262626" clip-path="url(#t2)">1</text>
<text class="sans" font-size="67.40" x="142.82" y="75.70" fill="#262626">2</text>
</g>
<g id="panel-b">
<line x1="524.30" y1="1379.00" x2="524.30" y2="1359.80" stroke="#262626" stroke-width="6.65"/>
<line x1="524.30" y1="816.40" x2="524.30" y2="835.60" stroke="#262626" stroke-width="6.65"/>
<line x1="842.60" y1="1379.00" x2="842.60" y2="1359.80" stroke="#262626" stroke-width="6.65"/>
<line x1="842.60" y1="816.40" x2="842.60" y2="835.60" stroke="#262626" stroke-width="6.65"/>
<line x1="1160.90" y1="1379.00" x2="1160.90" y2="1359.80" stroke="#262626" stroke-width="6.65"/>
<line x1="1160.90" y1="816.40" x2="1160.90" y2="835.60" stroke="#262626" stroke-width="6.65"/>
<line x1="1479.20" y1="1379.00" x2="1479.20" y2="1359.80" stroke="#262626" stroke-width="6.65"/>
<line x1="1479.20" y1="816.40" x2="1479.20" y2="835.60" stroke="#262626" stroke-width="6.65"/>
<line x1="206.00" y1="1191.47" x2="225.20" y2="1191.47" stroke="#262626" stroke-width="6.65"/>
<line x1="1797.50" y1="1191.47" x2="1778.30" y2="1191.47" stroke="#262626" stroke-width="6.65"/>
<line x1="206.00" y1="1003.93" x2="225.20" y2="1003.93" stroke="#262626" stroke-width="6.65"/>
<line x1="1797.50" y1="1003.93" x2="1778.30" y2="1003.93" stroke="#262626" stroke-width="6.65"/>
<line x1="203.10" y1="816.40" x2="1800.83" y2="816.40" stroke="#262626" stroke-width="6.65"/>
<line x1="203.10" y1="1379.00" x2="1800.83" y2="1379.00" stroke="#262626" stroke-width="6.65"/>
<line x1="206.00" y1="816.40" x2="206.00" y2="1379.00" stroke="#262626" stroke-width="5.8"/>
<line x1="1797.50" y1="816.40" x2="1797.50" y2="1379.00" stroke="#262626" stroke-width="6.65"/>
<path d="M206.00 1264.60 L206.95 1267.47 L207.91 1270.44 L208.86 1273.47 L209.82 1276.53 L210.77 1279.61 L211.73 1282.82 L212.68 1286.23 L213.64 1289.72 L214.59 1293.18 L215.55 1296.49 L216.50 1299.48 L217.46 1301.97 L218.41 1303.78 L219.37 1304.70 L220.32 1304.55 L221.28 1303.42 L222.23 1301.83 L223.19 1300.19 L224.14 1298.89 L225.10 1297.46 L226.05 1296.22 L227.01 1295.78 L227.96 1296.50 L228.92 1297.75 L229.87 1299.33 L230.83 1301.08 L231.78 1302.84 L232.74 1304.45 L233.69 1305.92 L234.65 1307.59 L235.60 1309.26 L236.56 1310.68 L237.51 1311.59 L238.47 1311.76 L239.42 1311.22 L240.38 1310.22 L241.33 1308.92 L242.29 1307.49 L243.24 1306.10 L244.20 1304.92 L245.15 1303.91 L246.11 1302.91 L247.06 1301.94 L248.02 1301.01 L248.97 1300.14 L249.93 1299.44 L250.88 1299.38 L251.84 1299.91 L252.79 1300.86 L253.75 1302.11 L254.70 1303.51 L255.65 1304.90 L256.61 1306.17 L257.56 1307.14 L258.52 1307.70 L259.47 1307.69 L260.43 1307.34 L261.38 1306.74 L262.34 1305.87 L263.29 1304.68 L264.25 1303.14 L265.20 1301.21 L266.16 1298.86 L267.11 1296.15 L268.07 1293.20 L269.02 1289.96 L269.98 1286.39 L270.93 1282.61 L271.89 1278.82 L272.84 1275.16 L273.80 1271.81 L274.75 1268.51 L275.71 1264.90 L276.66 1260.61 L277.62 1256.11 L278.57 1251.92 L279.53 1247.90 L280.48 1244.16 L281.44 1240.81 L282.39 1238.20 L283.35 1236.41 L284.30 1235.32 L285.26 1234.82 L286.21 1234.65 L287.17 1234.50 L288.12 1234.35 L289.08 1234.22 L290.03 1234.11 L290.99 1234.01 L291.94 1233.96 L292.90 1233.86 L293.85 1233.43 L294.81 1232.45 L295.76 1231.04 L296.72 1229.32 L297.67 1227.41 L298.63 1225.42 L299.58 1223.37 L300.54 1221.19 L301.49 1218.94 L302.44 1216.69 L303.40 1214.50 L304.35 1212.42 L305.31 1210.48 L306.26 1208.59 L307.22 1206.82 L308.17 1205.18 L309.13 1203.72 L310.08 1202.44 L311.04 1201.28 L311.99 1200.24 L312.95 1199.32 L313.90 1198.52 L314.86 1197.83 L315.81 1197.26 L316.77 1196.78 L317.72 1196.31 L318.68 1195.87 L319.63 1195.44 L320.59 1195.03 L321.54 1194.63 L322.50 1194.24 L323.45 1193.87 L324.41 1193.52 L325.36 1193.18 L326.32 1192.89 L327.27 1192.63 L328.23 1192.41 L329.18 1192.19 L330.14 1191.96 L331.09 1191.72 L332.05 1191.45 L333.00 1191.13 L333.96 1190.74 L334.91 1190.21 L335.87 1189.53 L336.82 1188.70 L337.78 1187.74 L338.73 1186.64 L339.69 1185.42 L340.64 1184.11 L341.60 1182.74 L342.55 1181.33 L343.51 1179.92 L344.46 1178.53 L345.42 1177.19 L346.37 1175.92 L347.33 1174.66 L348.28 1173.41 L349.24 1172.19 L350.19 1171.00 L351.14 1169.85 L352.10 1168.75 L353.05 1167.70 L354.01 1166.76 L354.96 1165.92 L355.92 1165.18 L356.87 1164.53 L357.83 1163.97 L358.78 1163.48 L359.74 1163.07 L360.69 1162.72 L361.65 1162.40 L362.60 1162.11 L363.56 1161.81 L364.51 1161.48 L365.47 1161.11 L366.42 1160.70 L367.38 1160.26 L368.33 1159.79 L369.29 1159.29 L370.24 1158.75 L371.20 1158.18 L372.15 1157.52 L373.11 1156.73 L374.06 1155.84 L375.02 1154.86 L375.97 1153.80 L376.93 1152.70 L377.88 1151.57 L378.84 1150.27 L379.79 1148.78 L380.75 1147.18 L381.70 1145.56 L382.66 1143.98 L383.61 1142.55 L384.57 1141.33 L385.52 1140.38 L386.48 1139.49 L387.43 1138.64 L388.39 1137.83 L389.34 1137.05 L390.30 1136.30 L391.25 1135.58 L392.21 1134.89 L393.16 1134.22 L394.12 1133.59 L395.07 1132.98 L396.03 1132.39 L396.98 1131.83 L398.25 1131.09 L399.53 1130.35 L400.80 1129.61 L402.07 1128.87 L403.35 1128.13 L404.62 1127.39 L405.89 1126.66 L407.17 1125.95 L408.44 1125.25 L409.71 1124.56 L410.99 1123.89 L412.26 1123.24 L413.53 1122.61 L414.80 1122.00 L416.08 1121.40 L417.35 1120.80 L418.62 1120.20 L419.90 1119.60 L421.17 1119.00 L422.44 1118.41 L423.72 1117.82 L424.99 1117.23 L426.26 1116.64 L427.54 1116.06 L428.81 1115.47 L430.08 1114.89 L431.36 1114.31 L432.63 1113.74 L433.90 1113.17 L435.18 1112.62 L436.45 1112.06 L437.72 1111.51 L439.00 1110.97 L440.27 1110.43 L441.54 1109.88 L442.82 1109.34 L444.09 1108.79 L445.36 1108.24 L446.63 1107.68 L447.91 1107.11 L449.18 1106.54 L450.45 1105.95 L451.73 1105.33 L453.00 1104.67 L454.27 1103.98 L455.55 1103.26 L456.82 1102.51 L458.09 1101.75 L459.37 1100.98 L460.64 1100.20 L461.91 1099.43 L463.19 1098.67 L464.46 1097.91 L465.73 1097.18 L467.01 1096.47 L468.28 1095.80 L469.55 1095.15 L470.83 1094.52 L472.10 1093.90 L473.37 1093.29 L474.65 1092.69 L475.92 1092.09 L477.19 1091.51 L478.46 1090.94 L479.74 1090.38 L481.01 1089.83 L482.28 1089.29 L483.56 1088.76 L484.83 1088.23 L486.10 1087.72 L487.38 1087.22 L488.65 1086.72 L489.92 1086.23 L491.20 1085.78 L492.47 1085.36 L493.74 1084.96 L495.02 1084.59 L496.29 1084.24 L497.56 1083.91 L498.84 1083.58 L500.11 1083.25 L501.38 1082.93 L502.66 1082.59 L503.93 1082.25 L505.20 1081.89 L506.48 1081.51 L507.75 1081.10 L509.02 1080.66 L510.29 1080.17 L511.57 1079.63 L512.84 1079.05 L514.11 1078.42 L515.39 1077.76 L516.66 1077.09 L517.93 1076.40 L519.21 1075.71 L520.48 1075.02 L521.75 1074.35 L523.03 1073.71 L524.30 1073.10 L525.57 1072.52 L526.85 1072.00 L528.12 1071.54 L529.39 1071.15 L530.67 1070.78 L531.94 1070.43 L533.21 1070.08 L534.49 1069.75 L535.76 1069.42 L537.03 1069.10 L538.31 1068.78 L539.58 1068.46 L540.85 1068.14 L542.12 1067.83 L543.40 1067.51 L544.67 1067.19 L545.94 1066.86 L547.22 1066.53 L548.49 1066.19 L549.76 1065.83 L551.04 1065.47 L552.31 1065.10 L553.58 1064.73 L554.86 1064.35 L556.13 1063.97 L557.40 1063.59 L558.68 1063.21 L559.95 1062.83 L561.22 1062.45 L562.50 1062.07 L563.77 1061.69 L565.04 1061.32 L566.32 1060.94 L567.59 1060.57 L568.86 1060.20 L570.14 1059.84 L571.41 1059.48 L572.68 1059.12 L573.95 1058.76 L575.23 1058.41 L576.50 1058.05 L577.77 1057.70 L579.05 1057.35 L580.32 1057.00 L581.59 1056.66 L582.87 1056.31 L584.14 1055.97 L585.41 1055.63 L586.69 1055.28 L587.96 1054.95 L595.92 1052.86 L603.87 1050.82 L611.83 1048.82 L619.79 1046.86 L627.75 1044.95 L635.70 1043.08 L643.66 1041.27 L651.62 1039.51 L659.58 1037.81 L667.53 1036.17 L675.49 1034.59 L683.45 1033.08 L691.41 1031.63 L699.36 1030.23 L707.32 1028.88 L715.28 1027.57 L723.24 1026.30 L731.19 1025.07 L739.15 1023.88 L747.11 1022.71 L755.07 1021.56 L763.02 1020.44 L770.98 1019.33 L778.94 1018.23 L786.90 1017.15 L794.85 1016.09 L802.81 1015.05 L810.77 1014.04 L818.73 1013.06 L826.68 1012.11 L834.64 1011.20 L842.60 1010.33 L850.56 1009.49 L858.51 1008.66 L866.47 1007.86 L874.43 1007.07 L882.39 1006.30 L890.34 1005.56 L898.30 1004.83 L906.26 1004.13 L914.22 1003.44 L922.17 1002.78 L930.13 1002.13 L938.09 1001.51 L946.05 1000.92 L954.00 1000.34 L961.96 999.79 L969.92 999.25 L977.88 998.75 L985.83 998.26 L993.79 997.80 L1001.75 997.37 L1009.71 996.95 L1017.66 996.54 L1025.62 996.14 L1033.58 995.74 L1041.54 995.36 L1049.49 994.98 L1057.45 994.62 L1065.41 994.26 L1073.37 993.92 L1081.32 993.58 L1089.28 993.26 L1097.24 992.94 L1105.20 992.64 L1113.15 992.35 L1121.11 992.07 L1129.07 991.81 L1137.03 991.56 L1144.98 991.32 L1152.94 991.09 L1160.90 990.88 L1168.86 990.68 L1176.81 990.47 L1184.77 990.27 L1192.73 990.07 L1200.69 989.87 L1208.64 989.67 L1216.60 989.47 L1224.56 989.27 L1232.52 989.08 L1240.47 988.88 L1248.43 988.69 L1256.39 988.50 L1264.35 988.31 L1272.30 988.13 L1280.26 987.94 L1288.22 987.76 L1296.18 987.58 L1304.13 987.40 L1312.09 987.22 L1320.05 987.05 L1328.01 986.88 L1335.96 986.71 L1343.92 986.55 L1351.88 986.38 L1359.84 986.23 L1367.79 986.07 L1375.75 985.92 L1383.71 985.76 L1391.67 985.62 L1399.62 985.47 L1407.58 985.33 L1415.54 985.20 L1423.50 985.06 L1431.45 984.93 L1439.41 984.81 L1447.37 984.69 L1455.33 984.57 L1463.28 984.46 L1471.24 984.35 L1479.20 984.24 L1487.16 984.14 L1495.11 984.04 L1503.07 983.94 L1511.03 983.84 L1518.99 983.75 L1526.94 983.66 L1534.90 983.56 L1542.86 983.47 L1550.82 983.39 L1558.77 983.30 L1566.73 983.21 L1574.69 983.13 L1582.65 983.05 L1590.60 982.97 L1598.56 982.90 L1606.52 982.82 L1614.48 982.75 L1622.43 982.68 L1630.39 982.62 L1638.35 982.55 L1646.31 982.49 L1654.26 982.43 L1662.22 982.37 L1670.18 982.32 L1678.14 982.26 L1686.09 982.21 L1694.05 982.17 L1702.01 982.12 L1709.97 982.08 L1717.92 982.04 L1725.88 982.00 L1733.84 981.97 L1741.80 981.94 L1749.75 981.91 L1757.71 981.89 L1765.67 981.86 L1773.63 981.84 L1781.58 981.83 L1789.54 981.81 L1797.50 981.80 L1797.50 981.80 L1803.50 981.80" fill="none" stroke="#000000" stroke-width="7.6" stroke-linejoin="round" stroke-dasharray="22.9 4.1 12.4 4.7" clip-path="url(#cB)"/>
<path d="M206.00 1206.92 L206.95 1208.65 L207.91 1210.74 L208.86 1213.22 L209.82 1216.09 L210.77 1219.36 L211.73 1223.46 L212.68 1228.21 L213.64 1232.43 L214.59 1236.36 L215.55 1240.07 L216.50 1243.24 L217.46 1245.56 L218.41 1246.70 L219.37 1246.41 L220.32 1245.01 L221.28 1243.01 L222.23 1240.89 L223.19 1239.14 L224.14 1237.99 L225.10 1236.92 L226.05 1235.93 L227.01 1235.07 L227.96 1234.41 L228.92 1234.06 L229.87 1234.41 L230.83 1235.33 L231.78 1236.63 L232.74 1238.13 L233.69 1239.64 L234.65 1240.95 L235.60 1241.88 L236.56 1242.24 L237.51 1241.84 L238.47 1240.84 L239.42 1239.62 L240.38 1238.26 L241.33 1236.88 L242.29 1235.56 L243.24 1234.40 L244.20 1233.39 L245.15 1232.41 L246.11 1231.47 L247.06 1230.61 L248.02 1229.84 L248.97 1229.18 L249.93 1228.73 L250.88 1228.74 L251.84 1229.15 L252.79 1229.86 L253.75 1230.77 L254.70 1231.78 L255.65 1232.79 L256.61 1233.70 L257.56 1234.41 L258.52 1234.82 L259.47 1234.83 L260.43 1234.56 L261.38 1234.09 L262.34 1233.43 L263.29 1232.61 L264.25 1231.63 L265.20 1230.52 L266.16 1229.29 L267.11 1228.00 L268.07 1226.46 L269.02 1224.49 L269.98 1221.89 L270.93 1218.50 L271.89 1214.72 L272.84 1210.77 L273.80 1206.73 L274.75 1202.61 L275.71 1198.49 L276.66 1194.47 L277.62 1190.73 L278.57 1187.28 L279.53 1184.12 L280.48 1181.43 L281.44 1179.24 L282.39 1177.51 L283.35 1176.20 L284.30 1175.24 L285.26 1174.49 L286.21 1173.90 L287.17 1173.43 L288.12 1173.08 L289.08 1172.83 L290.03 1172.95 L290.99 1173.31 L291.94 1173.55 L292.90 1173.33 L293.85 1172.54 L294.81 1171.42 L295.76 1170.04 L296.72 1168.44 L297.67 1166.66 L298.63 1164.75 L299.58 1162.73 L300.54 1160.60 L301.49 1158.41 L302.44 1156.23 L303.40 1154.10 L304.35 1152.09 L305.31 1150.20 L306.26 1148.38 L307.22 1146.67 L308.17 1145.10 L309.13 1143.71 L310.08 1142.49 L311.04 1141.38 L311.99 1140.38 L312.95 1139.50 L313.90 1138.71 L314.86 1138.03 L315.81 1137.44 L316.77 1136.94 L317.72 1136.45 L318.68 1135.98 L319.63 1135.53 L320.59 1135.10 L321.54 1134.69 L322.50 1134.31 L323.45 1133.95 L324.41 1133.62 L325.36 1133.32 L326.32 1133.06 L327.27 1132.84 L328.23 1132.64 L329.18 1132.46 L330.14 1132.28 L331.09 1132.09 L332.05 1131.87 L333.00 1131.63 L333.96 1131.34 L334.91 1131.04 L335.87 1130.68 L336.82 1130.21 L337.78 1129.57 L338.73 1128.69 L339.69 1127.54 L340.64 1126.28 L341.60 1124.98 L342.55 1123.65 L343.51 1122.30 L344.46 1120.94 L345.42 1119.58 L346.37 1118.22 L347.33 1116.85 L348.28 1115.49 L349.24 1114.13 L350.19 1112.77 L351.14 1111.45 L352.10 1110.17 L353.05 1108.99 L354.01 1108.02 L354.96 1107.28 L355.92 1106.73 L356.87 1106.31 L357.83 1105.97 L358.78 1105.68 L359.74 1105.38 L360.69 1105.07 L361.65 1104.77 L362.60 1104.47 L363.56 1104.17 L364.51 1103.87 L365.47 1103.55 L366.42 1103.23 L367.38 1102.91 L368.33 1102.58 L369.29 1102.24 L370.24 1101.88 L371.20 1101.51 L372.15 1101.06 L373.11 1100.44 L374.06 1099.67 L375.02 1098.80 L375.97 1097.83 L376.93 1096.80 L377.88 1095.72 L378.84 1094.58 L379.79 1093.41 L380.75 1092.22 L381.70 1091.06 L382.66 1089.93 L383.61 1088.84 L384.57 1087.74 L385.52 1086.65 L386.48 1085.60 L387.43 1084.59 L388.39 1083.66 L389.34 1082.82 L390.30 1082.09 L391.25 1081.42 L392.21 1080.80 L393.16 1080.21 L394.12 1079.65 L395.07 1079.12 L396.03 1078.61 L396.98 1078.12 L398.25 1077.49 L399.53 1076.88 L400.80 1076.28 L402.07 1075.68 L403.35 1075.07 L404.62 1074.43 L405.89 1073.76 L407.17 1073.06 L408.44 1072.30 L409.71 1071.50 L410.99 1070.67 L412.26 1069.81 L413.53 1068.93 L414.80 1068.03 L416.08 1067.11 L417.35 1066.20 L418.62 1065.28 L419.90 1064.37 L421.17 1063.47 L422.44 1062.58 L423.72 1061.72 L424.99 1060.89 L426.26 1060.09 L427.54 1059.34 L428.81 1058.62 L430.08 1057.96 L431.36 1057.36 L432.63 1056.80 L433.90 1056.28 L435.18 1055.78 L436.45 1055.30 L437.72 1054.85 L439.00 1054.41 L440.27 1053.99 L441.54 1053.57 L442.82 1053.17 L444.09 1052.77 L445.36 1052.37 L446.63 1051.96 L447.91 1051.56 L449.18 1051.14 L450.45 1050.71 L451.73 1050.27 L453.00 1049.81 L454.27 1049.33 L455.55 1048.83 L456.82 1048.33 L458.09 1047.83 L459.37 1047.33 L460.64 1046.83 L461.91 1046.32 L463.19 1045.82 L464.46 1045.31 L465.73 1044.81 L467.01 1044.30 L468.28 1043.79 L469.55 1043.28 L470.83 1042.77 L472.10 1042.25 L473.37 1041.74 L474.65 1041.22 L475.92 1040.70 L477.19 1040.17 L478.46 1039.65 L479.74 1039.10 L481.01 1038.52 L482.28 1037.92 L483.56 1037.31 L484.83 1036.68 L486.10 1036.05 L487.38 1035.41 L488.65 1034.77 L489.92 1034.14 L491.20 1033.51 L492.47 1032.90 L493.74 1032.31 L495.02 1031.74 L496.29 1031.19 L497.56 1030.68 L498.84 1030.19 L500.11 1029.75 L501.38 1029.35 L502.66 1028.97 L503.93 1028.59 L505.20 1028.21 L506.48 1027.82 L507.75 1027.44 L509.02 1027.06 L510.29 1026.68 L511.57 1026.29 L512.84 1025.91 L514.11 1025.53 L515.39 1025.15 L516.66 1024.77 L517.93 1024.38 L519.21 1024.00 L520.48 1023.62 L521.75 1023.24 L523.03 1022.85 L524.30 1022.47 L525.57 1022.09 L526.85 1021.71 L528.12 1021.33 L529.39 1020.94 L530.67 1020.56 L531.94 1020.18 L533.21 1019.80 L534.49 1019.41 L535.76 1019.03 L537.03 1018.65 L538.31 1018.27 L539.58 1017.88 L540.85 1017.50 L542.12 1017.12 L543.40 1016.74 L544.67 1016.36 L545.94 1015.97 L547.22 1015.59 L548.49 1015.21 L549.76 1014.83 L551.04 1014.44 L552.31 1014.06 L553.58 1013.68 L554.86 1013.30 L556.13 1012.92 L557.40 1012.53 L558.68 1012.15 L559.95 1011.77 L561.22 1011.39 L562.50 1011.00 L563.77 1010.62 L565.04 1010.24 L566.32 1009.86 L567.59 1009.48 L568.86 1009.09 L570.14 1008.71 L571.41 1008.33 L572.68 1007.96 L573.95 1007.60 L575.23 1007.25 L576.50 1006.92 L577.77 1006.59 L579.05 1006.27 L580.32 1005.97 L581.59 1005.67 L582.87 1005.38 L584.14 1005.09 L585.41 1004.82 L586.69 1004.54 L587.96 1004.28 L595.92 1002.69 L603.87 1001.12 L611.83 999.51 L619.79 997.91 L627.75 996.32 L635.70 994.75 L643.66 993.22 L651.62 991.71 L659.58 990.25 L667.53 988.84 L675.49 987.49 L683.45 986.19 L691.41 984.96 L699.36 983.78 L707.32 982.65 L715.28 981.56 L723.24 980.52 L731.19 979.52 L739.15 978.54 L747.11 977.60 L755.07 976.69 L763.02 975.80 L770.98 974.93 L778.94 974.07 L786.90 973.23 L794.85 972.41 L802.81 971.61 L810.77 970.84 L818.73 970.11 L826.68 969.40 L834.64 968.74 L842.60 968.11 L850.56 967.52 L858.51 966.94 L866.47 966.37 L874.43 965.82 L882.39 965.27 L890.34 964.75 L898.30 964.23 L906.26 963.73 L914.22 963.25 L922.17 962.78 L930.13 962.32 L938.09 961.88 L946.05 961.46 L954.00 961.05 L961.96 960.65 L969.92 960.28 L977.88 959.91 L985.83 959.57 L993.79 959.24 L1001.75 958.93 L1009.71 958.62 L1017.66 958.32 L1025.62 958.03 L1033.58 957.74 L1041.54 957.45 L1049.49 957.18 L1057.45 956.90 L1065.41 956.64 L1073.37 956.39 L1081.32 956.14 L1089.28 955.90 L1097.24 955.67 L1105.20 955.46 L1113.15 955.25 L1121.11 955.06 L1129.07 954.88 L1137.03 954.71 L1144.98 954.56 L1152.94 954.42 L1160.90 954.29 L1168.86 954.18 L1176.81 954.06 L1184.77 953.95 L1192.73 953.84 L1200.69 953.72 L1208.64 953.61 L1216.60 953.50 L1224.56 953.40 L1232.52 953.29 L1240.47 953.18 L1248.43 953.08 L1256.39 952.98 L1264.35 952.87 L1272.30 952.78 L1280.26 952.68 L1288.22 952.58 L1296.18 952.49 L1304.13 952.39 L1312.09 952.30 L1320.05 952.21 L1328.01 952.12 L1335.96 952.04 L1343.92 951.95 L1351.88 951.87 L1359.84 951.79 L1367.79 951.71 L1375.75 951.64 L1383.71 951.56 L1391.67 951.49 L1399.62 951.42 L1407.58 951.35 L1415.54 951.29 L1423.50 951.23 L1431.45 951.17 L1439.41 951.11 L1447.37 951.06 L1455.33 951.00 L1463.28 950.95 L1471.24 950.91 L1479.20 950.86 L1487.16 950.82 L1495.11 950.78 L1503.07 950.73 L1511.03 950.69 L1518.99 950.65 L1526.94 950.61 L1534.90 950.57 L1542.86 950.53 L1550.82 950.49 L1558.77 950.45 L1566.73 950.41 L1574.69 950.38 L1582.65 950.34 L1590.60 950.31 L1598.56 950.27 L1606.52 950.24 L1614.48 950.21 L1622.43 950.17 L1630.39 950.14 L1638.35 950.12 L1646.31 950.09 L1654.26 950.06 L1662.22 950.04 L1670.18 950.01 L1678.14 949.99 L1686.09 949.97 L1694.05 949.95 L1702.01 949.93 L1709.97 949.91 L1717.92 949.90 L1725.88 949.89 L1733.84 949.87 L1741.80 949.86 L1749.75 949.86 L1757.71 949.85 L1765.67 949.85 L1773.63 949.84 L1781.58 949.84 L1789.54 949.84 L1797.50 949.85 L1797.50 949.85 L1803.50 949.85" fill="none" stroke="#ff0000" stroke-width="7.6" stroke-linejoin="round" clip-path="url(#cB)"/>
<path d="M206.00 1161.87 L206.95 1164.39 L207.91 1166.93 L208.86 1169.48 L209.82 1172.03 L210.77 1174.59 L211.73 1177.18 L212.68 1179.84 L213.64 1182.51 L214.59 1185.15 L215.55 1187.72 L216.50 1189.88 L217.46 1191.55 L218.41 1193.00 L219.37 1194.52 L220.32 1196.59 L221.28 1199.47 L222.23 1201.83 L223.19 1202.34 L224.14 1201.34 L225.10 1199.63 L226.05 1197.90 L227.01 1196.80 L227.96 1195.95 L228.92 1195.15 L229.87 1194.42 L230.83 1193.79 L231.78 1193.38 L232.74 1193.87 L233.69 1194.91 L234.65 1195.96 L235.60 1196.44 L236.56 1195.83 L237.51 1194.51 L238.47 1192.80 L239.42 1190.84 L240.38 1188.76 L241.33 1186.71 L242.29 1184.82 L243.24 1183.25 L244.20 1181.96 L245.15 1180.71 L246.11 1179.56 L247.06 1178.55 L248.02 1177.72 L248.97 1177.10 L249.93 1176.80 L250.88 1176.99 L251.84 1177.57 L252.79 1178.43 L253.75 1179.44 L254.70 1180.50 L255.65 1181.48 L256.61 1182.25 L257.56 1182.70 L258.52 1182.75 L259.47 1182.66 L260.43 1182.47 L261.38 1182.09 L262.34 1181.49 L263.29 1180.61 L264.25 1179.38 L265.20 1177.76 L266.16 1175.93 L267.11 1173.95 L268.07 1171.84 L269.02 1169.59 L269.98 1167.23 L270.93 1164.82 L271.89 1162.37 L272.84 1159.87 L273.80 1157.32 L274.75 1154.67 L275.71 1151.78 L276.66 1148.74 L277.62 1145.66 L278.57 1142.69 L279.53 1139.95 L280.48 1137.50 L281.44 1135.30 L282.39 1133.34 L283.35 1131.58 L284.30 1130.02 L285.26 1128.68 L286.21 1127.56 L287.17 1126.66 L288.12 1125.95 L289.08 1125.42 L290.03 1125.37 L290.99 1125.64 L291.94 1125.83 L292.90 1125.52 L293.85 1124.71 L294.81 1123.83 L295.76 1122.86 L296.72 1121.80 L297.67 1120.65 L298.63 1119.40 L299.58 1118.06 L300.54 1116.69 L301.49 1115.30 L302.44 1113.91 L303.40 1112.55 L304.35 1111.25 L305.31 1110.00 L306.26 1108.78 L307.22 1107.58 L308.17 1106.39 L309.13 1105.22 L310.08 1104.06 L311.04 1102.92 L311.99 1101.80 L312.95 1100.72 L313.90 1099.67 L314.86 1098.66 L315.81 1097.70 L316.77 1096.81 L317.72 1096.01 L318.68 1095.29 L319.63 1094.65 L320.59 1094.09 L321.54 1093.58 L322.50 1093.14 L323.45 1092.71 L324.41 1092.29 L325.36 1091.88 L326.32 1091.47 L327.27 1091.07 L328.23 1090.66 L329.18 1090.25 L330.14 1089.82 L331.09 1089.41 L332.05 1089.01 L333.00 1088.61 L333.96 1088.17 L334.91 1087.69 L335.87 1087.12 L336.82 1086.43 L337.78 1085.53 L338.73 1084.45 L339.69 1083.24 L340.64 1081.95 L341.60 1080.64 L342.55 1079.36 L343.51 1078.12 L344.46 1076.84 L345.42 1075.52 L346.37 1074.21 L347.33 1072.91 L348.28 1071.67 L349.24 1070.51 L350.19 1069.44 L351.14 1068.44 L352.10 1067.53 L353.05 1066.68 L354.01 1065.89 L354.96 1065.16 L355.92 1064.48 L356.87 1063.83 L357.83 1063.22 L358.78 1062.63 L359.74 1062.07 L360.69 1061.53 L361.65 1061.01 L362.60 1060.53 L363.56 1060.05 L364.51 1059.60 L365.47 1059.15 L366.42 1058.70 L367.38 1058.25 L368.33 1057.79 L369.29 1057.32 L370.24 1056.83 L371.20 1056.32 L372.15 1055.78 L373.11 1055.20 L374.06 1054.59 L375.02 1053.96 L375.97 1053.31 L376.93 1052.64 L377.88 1051.96 L378.84 1051.28 L379.79 1050.60 L380.75 1049.91 L381.70 1049.24 L382.66 1048.57 L383.61 1047.92 L384.57 1047.29 L385.52 1046.68 L386.48 1046.10 L387.43 1045.54 L388.39 1044.99 L389.34 1044.44 L390.30 1043.90 L391.25 1043.36 L392.21 1042.82 L393.16 1042.29 L394.12 1041.77 L395.07 1041.25 L396.03 1040.74 L396.98 1040.24 L398.25 1039.58 L399.53 1038.94 L400.80 1038.32 L402.07 1037.69 L403.35 1037.07 L404.62 1036.45 L405.89 1035.83 L407.17 1035.21 L408.44 1034.59 L409.71 1033.98 L410.99 1033.37 L412.26 1032.76 L413.53 1032.16 L414.80 1031.56 L416.08 1030.97 L417.35 1030.38 L418.62 1029.79 L419.90 1029.20 L421.17 1028.60 L422.44 1028.01 L423.72 1027.42 L424.99 1026.83 L426.26 1026.24 L427.54 1025.65 L428.81 1025.06 L430.08 1024.47 L431.36 1023.87 L432.63 1023.28 L433.90 1022.69 L435.18 1022.10 L436.45 1021.51 L437.72 1020.92 L439.00 1020.33 L440.27 1019.74 L441.54 1019.14 L442.82 1018.55 L444.09 1017.96 L445.36 1017.38 L446.63 1016.82 L447.91 1016.28 L449.18 1015.76 L450.45 1015.25 L451.73 1014.76 L453.00 1014.28 L454.27 1013.80 L455.55 1013.33 L456.82 1012.86 L458.09 1012.39 L459.37 1011.91 L460.64 1011.43 L461.91 1010.95 L463.19 1010.47 L464.46 1009.99 L465.73 1009.50 L467.01 1009.02 L468.28 1008.54 L469.55 1008.06 L470.83 1007.57 L472.10 1007.09 L473.37 1006.61 L474.65 1006.12 L475.92 1005.63 L477.19 1005.14 L478.46 1004.64 L479.74 1004.14 L481.01 1003.64 L482.28 1003.14 L483.56 1002.65 L484.83 1002.15 L486.10 1001.67 L487.38 1001.19 L488.65 1000.72 L489.92 1000.26 L491.20 999.80 L492.47 999.35 L493.74 998.91 L495.02 998.46 L496.29 998.02 L497.56 997.58 L498.84 997.15 L500.11 996.71 L501.38 996.27 L502.66 995.83 L503.93 995.39 L505.20 994.95 L506.48 994.51 L507.75 994.07 L509.02 993.63 L510.29 993.19 L511.57 992.75 L512.84 992.31 L514.11 991.87 L515.39 991.43 L516.66 991.00 L517.93 990.56 L519.21 990.12 L520.48 989.68 L521.75 989.24 L523.03 988.81 L524.30 988.37 L525.57 987.93 L526.85 987.51 L528.12 987.08 L529.39 986.66 L530.67 986.25 L531.94 985.84 L533.21 985.44 L534.49 985.04 L535.76 984.65 L537.03 984.27 L538.31 983.88 L539.58 983.51 L540.85 983.13 L542.12 982.77 L543.40 982.40 L544.67 982.04 L545.94 981.69 L547.22 981.34 L548.49 981.00 L549.76 980.65 L551.04 980.32 L552.31 979.99 L553.58 979.66 L554.86 979.33 L556.13 979.01 L557.40 978.69 L558.68 978.38 L559.95 978.07 L561.22 977.76 L562.50 977.46 L563.77 977.16 L565.04 976.86 L566.32 976.57 L567.59 976.28 L568.86 975.99 L570.14 975.70 L571.41 975.42 L572.68 975.14 L573.95 974.86 L575.23 974.58 L576.50 974.30 L577.77 974.03 L579.05 973.76 L580.32 973.49 L581.59 973.22 L582.87 972.95 L584.14 972.68 L585.41 972.41 L586.69 972.14 L587.96 971.88 L595.92 970.24 L603.87 968.64 L611.83 967.10 L619.79 965.62 L627.75 964.19 L635.70 962.80 L643.66 961.45 L651.62 960.16 L659.58 958.92 L667.53 957.74 L675.49 956.62 L683.45 955.57 L691.41 954.57 L699.36 953.61 L707.32 952.70 L715.28 951.81 L723.24 950.97 L731.19 950.14 L739.15 949.35 L747.11 948.57 L755.07 947.79 L763.02 947.02 L770.98 946.25 L778.94 945.50 L786.90 944.77 L794.85 944.05 L802.81 943.36 L810.77 942.70 L818.73 942.07 L826.68 941.48 L834.64 940.94 L842.60 940.43 L850.56 939.97 L858.51 939.52 L866.47 939.09 L874.43 938.67 L882.39 938.27 L890.34 937.89 L898.30 937.52 L906.26 937.17 L914.22 936.82 L922.17 936.50 L930.13 936.18 L938.09 935.88 L946.05 935.58 L954.00 935.30 L961.96 935.03 L969.92 934.77 L977.88 934.51 L985.83 934.27 L993.79 934.03 L1001.75 933.80 L1009.71 933.57 L1017.66 933.33 L1025.62 933.10 L1033.58 932.86 L1041.54 932.63 L1049.49 932.40 L1057.45 932.17 L1065.41 931.95 L1073.37 931.73 L1081.32 931.52 L1089.28 931.32 L1097.24 931.13 L1105.20 930.94 L1113.15 930.77 L1121.11 930.61 L1129.07 930.47 L1137.03 930.34 L1144.98 930.22 L1152.94 930.12 L1160.90 930.05 L1168.86 929.98 L1176.81 929.91 L1184.77 929.84 L1192.73 929.77 L1200.69 929.71 L1208.64 929.65 L1216.60 929.58 L1224.56 929.52 L1232.52 929.46 L1240.47 929.40 L1248.43 929.35 L1256.39 929.29 L1264.35 929.23 L1272.30 929.18 L1280.26 929.13 L1288.22 929.07 L1296.18 929.02 L1304.13 928.97 L1312.09 928.92 L1320.05 928.88 L1328.01 928.83 L1335.96 928.78 L1343.92 928.74 L1351.88 928.70 L1359.84 928.66 L1367.79 928.61 L1375.75 928.58 L1383.71 928.54 L1391.67 928.50 L1399.62 928.46 L1407.58 928.43 L1415.54 928.40 L1423.50 928.36 L1431.45 928.33 L1439.41 928.30 L1447.37 928.27 L1455.33 928.25 L1463.28 928.22 L1471.24 928.19 L1479.20 928.17 L1487.16 928.15 L1495.11 928.12 L1503.07 928.10 L1511.03 928.07 L1518.99 928.05 L1526.94 928.03 L1534.90 928.00 L1542.86 927.98 L1550.82 927.95 L1558.77 927.93 L1566.73 927.91 L1574.69 927.88 L1582.65 927.86 L1590.60 927.83 L1598.56 927.81 L1606.52 927.79 L1614.48 927.77 L1622.43 927.74 L1630.39 927.72 L1638.35 927.70 L1646.31 927.68 L1654.26 927.66 L1662.22 927.64 L1670.18 927.62 L1678.14 927.60 L1686.09 927.58 L1694.05 927.57 L1702.01 927.55 L1709.97 927.53 L1717.92 927.52 L1725.88 927.51 L1733.84 927.49 L1741.80 927.48 L1749.75 927.47 L1757.71 927.46 L1765.67 927.45 L1773.63 927.44 L1781.58 927.43 L1789.54 927.43 L1797.50 927.42 L1797.50 927.42 L1803.50 927.42" fill="none" stroke="#0000ff" stroke-width="9.3" stroke-linejoin="round" stroke-dasharray="34.2 32.05" clip-path="url(#cB)"/>
<path d="M206.00 1094.14 L206.95 1096.37 L207.91 1098.84 L208.86 1101.54 L209.82 1104.47 L210.77 1107.64 L211.73 1111.34 L212.68 1115.39 L213.64 1119.18 L214.59 1122.97 L215.55 1126.62 L216.50 1129.73 L217.46 1131.93 L218.41 1132.83 L219.37 1132.25 L220.32 1130.66 L221.28 1128.49 L222.23 1126.15 L223.19 1124.06 L224.14 1122.59 L225.10 1121.28 L226.05 1120.00 L227.01 1118.77 L227.96 1117.66 L228.92 1116.71 L229.87 1115.99 L230.83 1115.88 L231.78 1116.32 L232.74 1117.02 L233.69 1117.73 L234.65 1118.15 L235.60 1118.02 L236.56 1117.20 L237.51 1116.16 L238.47 1115.04 L239.42 1113.86 L240.38 1112.67 L241.33 1111.50 L242.29 1110.39 L243.24 1109.37 L244.20 1108.40 L245.15 1107.45 L246.11 1106.54 L247.06 1105.69 L248.02 1104.91 L248.97 1104.21 L249.93 1103.70 L250.88 1103.75 L251.84 1104.31 L252.79 1105.22 L253.75 1106.36 L254.70 1107.60 L255.65 1108.79 L256.61 1109.80 L257.56 1110.50 L258.52 1110.75 L259.47 1110.58 L260.43 1110.24 L261.38 1109.74 L262.34 1109.08 L263.29 1108.26 L264.25 1107.28 L265.20 1106.14 L266.16 1104.86 L267.11 1103.43 L268.07 1101.82 L269.02 1100.01 L269.98 1097.96 L270.93 1095.61 L271.89 1092.71 L272.84 1089.52 L273.80 1086.46 L274.75 1083.89 L275.71 1081.54 L276.66 1079.32 L277.62 1077.26 L278.57 1075.40 L279.53 1073.75 L280.48 1072.33 L281.44 1071.04 L282.39 1069.89 L283.35 1068.89 L284.30 1068.08 L285.26 1067.47 L286.21 1067.05 L287.17 1066.69 L288.12 1066.37 L289.08 1066.10 L290.03 1065.88 L290.99 1065.74 L291.94 1065.67 L292.90 1065.62 L293.85 1065.52 L294.81 1065.35 L295.76 1065.06 L296.72 1064.56 L297.67 1063.71 L298.63 1062.37 L299.58 1060.60 L300.54 1058.69 L301.49 1056.71 L302.44 1054.73 L303.40 1052.84 L304.35 1050.98 L305.31 1049.11 L306.26 1047.33 L307.22 1045.69 L308.17 1044.29 L309.13 1043.17 L310.08 1042.27 L311.04 1041.53 L311.99 1040.90 L312.95 1040.31 L313.90 1039.70 L314.86 1039.10 L315.81 1038.50 L316.77 1037.93 L317.72 1037.39 L318.68 1036.92 L319.63 1036.50 L320.59 1036.09 L321.54 1035.70 L322.50 1035.31 L323.45 1034.92 L324.41 1034.54 L325.36 1034.15 L326.32 1033.76 L327.27 1033.36 L328.23 1032.96 L329.18 1032.57 L330.14 1032.18 L331.09 1031.79 L332.05 1031.38 L333.00 1030.94 L333.96 1030.46 L334.91 1029.92 L335.87 1029.30 L336.82 1028.57 L337.78 1027.75 L338.73 1026.85 L339.69 1025.91 L340.64 1024.94 L341.60 1023.97 L342.55 1023.02 L343.51 1022.07 L344.46 1021.11 L345.42 1020.15 L346.37 1019.18 L347.33 1018.23 L348.28 1017.28 L349.24 1016.30 L350.19 1015.30 L351.14 1014.34 L352.10 1013.47 L353.05 1012.73 L354.01 1012.18 L354.96 1011.74 L355.92 1011.32 L356.87 1010.94 L357.83 1010.57 L358.78 1010.21 L359.74 1009.85 L360.69 1009.50 L361.65 1009.13 L362.60 1008.75 L363.56 1008.36 L364.51 1007.97 L365.47 1007.58 L366.42 1007.20 L367.38 1006.81 L368.33 1006.41 L369.29 1006.00 L370.24 1005.58 L371.20 1005.14 L372.15 1004.64 L373.11 1004.01 L374.06 1003.27 L375.02 1002.47 L375.97 1001.64 L376.93 1000.80 L377.88 999.98 L378.84 999.11 L379.79 998.22 L380.75 997.33 L381.70 996.47 L382.66 995.65 L383.61 994.88 L384.57 994.13 L385.52 993.41 L386.48 992.73 L387.43 992.08 L388.39 991.47 L389.34 990.90 L390.30 990.36 L391.25 989.87 L392.21 989.40 L393.16 988.97 L394.12 988.54 L395.07 988.12 L396.03 987.66 L396.98 987.17 L398.25 986.42 L399.53 985.59 L400.80 984.70 L402.07 983.83 L403.35 983.04 L404.62 982.41 L405.89 981.94 L407.17 981.60 L408.44 981.31 L409.71 980.94 L410.99 980.39 L412.26 979.60 L413.53 978.56 L414.80 977.36 L416.08 976.12 L417.35 974.99 L418.62 974.10 L419.90 973.53 L421.17 973.27 L422.44 973.20 L423.72 973.18 L424.99 973.01 L426.26 972.55 L427.54 971.73 L428.81 970.60 L430.08 969.29 L431.36 968.04 L432.63 967.04 L433.90 966.45 L435.18 966.32 L436.45 966.59 L437.72 967.09 L439.00 967.55 L440.27 967.71 L441.54 967.39 L442.82 966.53 L444.09 965.22 L445.36 963.68 L446.63 962.20 L447.91 961.10 L449.18 960.56 L450.45 960.64 L451.73 961.21 L453.00 962.02 L454.27 962.71 L455.55 962.96 L456.82 962.56 L458.09 961.47 L459.37 959.85 L460.64 958.00 L461.91 956.31 L463.19 955.14 L464.46 954.71 L465.73 955.03 L467.01 955.93 L468.28 957.03 L469.55 957.90 L470.83 958.14 L472.10 957.57 L473.37 956.22 L474.65 954.35 L475.92 952.34 L477.19 950.62 L478.46 949.55 L479.74 949.31 L481.01 949.87 L482.28 950.96 L483.56 952.17 L484.83 953.08 L486.10 953.34 L487.38 952.79 L488.65 951.50 L489.92 949.74 L491.20 947.92 L492.47 946.45 L493.74 945.67 L495.02 945.70 L496.29 946.46 L497.56 947.66 L498.84 948.89 L500.11 949.71 L501.38 949.82 L502.66 949.09 L503.93 947.61 L505.20 945.70 L506.48 943.78 L507.75 942.25 L509.02 941.44 L510.29 941.44 L511.57 942.15 L512.84 943.26 L514.11 944.34 L515.39 945.00 L516.66 944.93 L517.93 944.05 L519.21 942.50 L520.48 940.61 L521.75 938.80 L523.03 937.48 L524.30 936.94 L525.57 937.23 L526.85 938.20 L528.12 939.50 L529.39 940.70 L530.67 941.41 L531.94 941.37 L533.21 940.50 L534.49 938.99 L535.76 937.17 L537.03 935.48 L538.31 934.31 L539.58 933.91 L540.85 934.32 L542.12 935.36 L543.40 936.67 L544.67 937.83 L545.94 938.44 L547.22 938.27 L548.49 937.29 L549.76 935.71 L551.04 933.88 L552.31 932.24 L553.58 931.18 L554.86 930.90 L556.13 931.42 L557.40 932.53 L558.68 933.85 L559.95 934.94 L561.22 935.45 L562.50 935.15 L563.77 934.07 L565.04 932.42 L566.32 930.59 L567.59 929.02 L568.86 928.06 L570.14 927.91 L571.41 928.54 L572.68 929.71 L573.95 930.97 L575.23 931.41 L576.50 930.96 L577.77 930.01 L579.05 929.12 L580.32 928.85 L581.59 928.63 L582.87 928.41 L584.14 928.20 L585.41 927.99 L586.69 927.79 L587.96 927.59 L595.92 926.36 L603.87 925.17 L611.83 923.98 L619.79 922.82 L627.75 921.68 L635.70 920.58 L643.66 919.50 L651.62 918.46 L659.58 917.46 L667.53 916.50 L675.49 915.59 L683.45 914.72 L691.41 913.90 L699.36 913.12 L707.32 912.38 L715.28 911.68 L723.24 911.00 L731.19 910.36 L739.15 909.76 L747.11 909.18 L755.07 908.63 L763.02 908.10 L770.98 907.59 L778.94 907.09 L786.90 906.60 L794.85 906.13 L802.81 905.67 L810.77 905.23 L818.73 904.82 L826.68 904.44 L834.64 904.09 L842.60 903.77 L850.56 903.48 L858.51 903.19 L866.47 902.90 L874.43 902.63 L882.39 902.35 L890.34 902.09 L898.30 901.83 L906.26 901.58 L914.22 901.33 L922.17 901.09 L930.13 900.86 L938.09 900.63 L946.05 900.41 L954.00 900.20 L961.96 900.00 L969.92 899.81 L977.88 899.62 L985.83 899.44 L993.79 899.27 L1001.75 899.10 L1009.71 898.94 L1017.66 898.78 L1025.62 898.62 L1033.58 898.46 L1041.54 898.31 L1049.49 898.15 L1057.45 898.00 L1065.41 897.85 L1073.37 897.71 L1081.32 897.57 L1089.28 897.44 L1097.24 897.31 L1105.20 897.19 L1113.15 897.08 L1121.11 896.98 L1129.07 896.88 L1137.03 896.80 L1144.98 896.72 L1152.94 896.66 L1160.90 896.61 L1168.86 896.56 L1176.81 896.52 L1184.77 896.47 L1192.73 896.43 L1200.69 896.38 L1208.64 896.34 L1216.60 896.30 L1224.56 896.26 L1232.52 896.22 L1240.47 896.18 L1248.43 896.14 L1256.39 896.10 L1264.35 896.06 L1272.30 896.03 L1280.26 895.99 L1288.22 895.95 L1296.18 895.92 L1304.13 895.89 L1312.09 895.85 L1320.05 895.82 L1328.01 895.79 L1335.96 895.76 L1343.92 895.73 L1351.88 895.70 L1359.84 895.67 L1367.79 895.64 L1375.75 895.62 L1383.71 895.59 L1391.67 895.57 L1399.62 895.54 L1407.58 895.52 L1415.54 895.50 L1423.50 895.48 L1431.45 895.46 L1439.41 895.44 L1447.37 895.42 L1455.33 895.40 L1463.28 895.38 L1471.24 895.37 L1479.20 895.35 L1487.16 895.34 L1495.11 895.32 L1503.07 895.31 L1511.03 895.29 L1518.99 895.28 L1526.94 895.26 L1534.90 895.25 L1542.86 895.23 L1550.82 895.22 L1558.77 895.20 L1566.73 895.19 L1574.69 895.17 L1582.65 895.16 L1590.60 895.15 L1598.56 895.13 L1606.52 895.12 L1614.48 895.10 L1622.43 895.09 L1630.39 895.08 L1638.35 895.07 L1646.31 895.05 L1654.26 895.04 L1662.22 895.03 L1670.18 895.02 L1678.14 895.01 L1686.09 895.00 L1694.05 894.99 L1702.01 894.98 L1709.97 894.97 L1717.92 894.96 L1725.88 894.96 L1733.84 894.95 L1741.80 894.94 L1749.75 894.94 L1757.71 894.93 L1765.67 894.93 L1773.63 894.93 L1781.58 894.92 L1789.54 894.92 L1797.50 894.92 L1797.50 894.92 L1803.50 894.92" fill="none" stroke="#008000" stroke-width="7.6" stroke-linejoin="round" clip-path="url(#cB)"/>
<text class="sans" font-size="67.40" x="187.26" y="1472.70" fill="#262626">0</text>
<text class="sans" font-size="67.40" x="505.56" y="1472.70" fill="#262626">2</text>
<text class="sans" font-size="67.40" x="823.86" y="1472.70" fill="#262626">4</text>
<text class="sans" font-size="67.40" x="1142.16" y="1472.70" fill="#262626">6</text>
<text class="sans" font-size="67.40" x="1460.46" y="1472.70" fill="#262626">8</text>
<text class="sans" font-size="67.40" x="1760.02" y="1472.70" fill="#262626" clip-path="url(#t3)">10</text>
<text class="sans" font-size="67.40" x="120.37" y="1405.20" fill="#262626" clip-path="url(#t4)">-1</text>
<text class="sans" font-size="67.40" x="142.82" y="1217.67" fill="#262626">0</text>
<text class="sans" font-size="67.40" x="142.82" y="1030.13" fill="#262626" clip-path="url(#t5)">1</text>
<text class="sans" font-size="67.40" x="142.82" y="842.60" fill="#262626">2</text>
<g id="inset">
<line x1="990.75" y1="1293.40" x2="990.75" y2="1286.00" stroke="#262626" stroke-width="6.65"/>
<line x1="990.75" y1="1053.50" x2="990.75" y2="1060.90" stroke="#262626" stroke-width="6.65"/>
<line x1="778.00" y1="1173.45" x2="785.40" y2="1173.45" stroke="#262626" stroke-width="6.65"/>
<line x1="1203.50" y1="1173.45" x2="1196.10" y2="1173.45" stroke="#262626" stroke-width="6.65"/>
<line x1="775.10" y1="1053.50" x2="1206.83" y2="1053.50" stroke="#262626" stroke-width="6.65"/>
<line x1="775.10" y1="1293.40" x2="1206.83" y2="1293.40" stroke="#262626" stroke-width="6.65"/>
<line x1="778.00" y1="1053.50" x2="778.00" y2="1293.40" stroke="#262626" stroke-width="5.8"/>
<line x1="1203.50" y1="1053.50" x2="1203.50" y2="1293.40" stroke="#262626" stroke-width="6.65"/>
<path d="M778.00 1220.23 L780.55 1222.07 L783.11 1223.96 L785.66 1225.90 L788.21 1227.86 L790.76 1229.83 L793.32 1231.88 L795.87 1234.06 L798.42 1236.30 L800.98 1238.51 L803.53 1240.62 L806.08 1242.54 L808.64 1244.13 L811.19 1245.29 L813.74 1245.88 L816.29 1245.78 L818.85 1245.06 L821.40 1244.04 L823.95 1242.99 L826.51 1242.16 L829.06 1241.24 L831.61 1240.45 L834.17 1240.17 L836.72 1240.63 L839.27 1241.43 L841.83 1242.44 L844.38 1243.56 L846.93 1244.69 L849.48 1245.72 L852.04 1246.65 L854.59 1247.72 L857.14 1248.79 L859.70 1249.70 L862.25 1250.29 L864.80 1250.39 L867.36 1250.05 L869.91 1249.41 L872.46 1248.57 L875.01 1247.66 L877.57 1246.77 L880.12 1246.02 L882.67 1245.37 L885.23 1244.73 L887.78 1244.11 L890.33 1243.52 L892.88 1242.96 L895.44 1242.51 L897.99 1242.48 L900.54 1242.81 L903.10 1243.42 L905.65 1244.22 L908.20 1245.11 L910.76 1246.01 L913.31 1246.81 L915.86 1247.44 L918.41 1247.79 L920.97 1247.79 L923.52 1247.56 L926.07 1247.18 L928.63 1246.62 L931.18 1245.86 L933.73 1244.88 L936.29 1243.65 L938.84 1242.14 L941.39 1240.41 L943.94 1238.52 L946.50 1236.45 L949.05 1234.16 L951.60 1231.75 L954.16 1229.32 L956.71 1226.98 L959.26 1224.84 L961.82 1222.73 L964.37 1220.42 L966.92 1217.67 L969.48 1214.80 L972.03 1212.12 L974.58 1209.55 L977.13 1207.15 L979.69 1205.01 L982.24 1203.34 L984.79 1202.20 L987.35 1201.50 L989.90 1201.18 L992.45 1201.07 L995.00 1200.97 L997.56 1200.88 L1000.11 1200.80 L1002.66 1200.72 L1005.22 1200.66 L1007.77 1200.63 L1010.32 1200.57 L1012.88 1200.29 L1015.43 1199.66 L1017.98 1198.76 L1020.54 1197.66 L1023.09 1196.44 L1025.64 1195.17 L1028.19 1193.85 L1030.75 1192.46 L1033.30 1191.02 L1035.85 1189.58 L1038.41 1188.18 L1040.96 1186.86 L1043.51 1185.61 L1046.07 1184.41 L1048.62 1183.27 L1051.17 1182.22 L1053.72 1181.29 L1056.28 1180.47 L1058.83 1179.73 L1061.38 1179.06 L1063.94 1178.47 L1066.49 1177.96 L1069.04 1177.52 L1071.60 1177.16 L1074.15 1176.85 L1076.70 1176.55 L1079.25 1176.27 L1081.81 1175.99 L1084.36 1175.73 L1086.91 1175.47 L1089.47 1175.23 L1092.02 1174.99 L1094.57 1174.76 L1097.12 1174.54 L1099.68 1174.36 L1102.23 1174.20 L1104.78 1174.05 L1107.34 1173.91 L1109.89 1173.77 L1112.44 1173.61 L1115.00 1173.44 L1117.55 1173.24 L1120.10 1172.99 L1122.65 1172.65 L1125.21 1172.21 L1127.76 1171.68 L1130.31 1171.06 L1132.87 1170.36 L1135.42 1169.58 L1137.97 1168.74 L1140.53 1167.87 L1143.08 1166.97 L1145.63 1166.06 L1148.18 1165.17 L1150.74 1164.32 L1153.29 1163.50 L1155.84 1162.70 L1158.40 1161.90 L1160.95 1161.12 L1163.50 1160.36 L1166.06 1159.62 L1168.61 1158.92 L1171.16 1158.25 L1173.72 1157.65 L1176.27 1157.11 L1178.82 1156.64 L1181.37 1156.22 L1183.93 1155.86 L1186.48 1155.55 L1189.03 1155.29 L1191.59 1155.06 L1194.14 1154.86 L1196.69 1154.67 L1199.24 1154.48 L1201.80 1154.27 L1203.50 1154.12 L1209.50 1153.58" fill="none" stroke="#000000" stroke-width="7.4" stroke-linejoin="round" stroke-dasharray="22.9 4.1 12.4 4.7" clip-path="url(#cI)"/>
<path d="M778.00 1183.33 L780.55 1184.44 L783.11 1185.78 L785.66 1187.37 L788.21 1189.20 L790.76 1191.29 L793.32 1193.91 L795.87 1196.95 L798.42 1199.65 L800.98 1202.16 L803.53 1204.54 L806.08 1206.57 L808.64 1208.05 L811.19 1208.78 L813.74 1208.59 L816.29 1207.70 L818.85 1206.42 L821.40 1205.07 L823.95 1203.95 L826.51 1203.21 L829.06 1202.52 L831.61 1201.89 L834.17 1201.34 L836.72 1200.92 L839.27 1200.70 L841.83 1200.92 L844.38 1201.50 L846.93 1202.34 L849.48 1203.30 L852.04 1204.26 L854.59 1205.10 L857.14 1205.70 L859.70 1205.93 L862.25 1205.67 L864.80 1205.03 L867.36 1204.25 L869.91 1203.38 L872.46 1202.50 L875.01 1201.65 L877.57 1200.91 L880.12 1200.27 L882.67 1199.64 L885.23 1199.04 L887.78 1198.48 L890.33 1197.99 L892.88 1197.57 L895.44 1197.29 L897.99 1197.29 L900.54 1197.55 L903.10 1198.01 L905.65 1198.59 L908.20 1199.24 L910.76 1199.88 L913.31 1200.46 L915.86 1200.92 L918.41 1201.18 L920.97 1201.19 L923.52 1201.01 L926.07 1200.71 L928.63 1200.29 L931.18 1199.77 L933.73 1199.14 L936.29 1198.43 L938.84 1197.64 L941.39 1196.82 L943.94 1195.83 L946.50 1194.57 L949.05 1192.91 L951.60 1190.74 L954.16 1188.32 L956.71 1185.80 L959.26 1183.21 L961.82 1180.58 L964.37 1177.94 L966.92 1175.37 L969.48 1172.98 L972.03 1170.77 L974.58 1168.75 L977.13 1167.03 L979.69 1165.63 L982.24 1164.52 L984.79 1163.68 L987.35 1163.07 L989.90 1162.59 L992.45 1162.21 L995.00 1161.91 L997.56 1161.69 L1000.11 1161.53 L1002.66 1161.61 L1005.22 1161.84 L1007.77 1161.99 L1010.32 1161.85 L1012.88 1161.34 L1015.43 1160.63 L1017.98 1159.75 L1020.54 1158.72 L1023.09 1157.58 L1025.64 1156.36 L1028.19 1155.07 L1030.75 1153.71 L1033.30 1152.31 L1035.85 1150.91 L1038.41 1149.55 L1040.96 1148.26 L1043.51 1147.05 L1046.07 1145.89 L1048.62 1144.79 L1051.17 1143.79 L1053.72 1142.90 L1056.28 1142.12 L1058.83 1141.41 L1061.38 1140.78 L1063.94 1140.21 L1066.49 1139.71 L1069.04 1139.27 L1071.60 1138.90 L1074.15 1138.57 L1076.70 1138.26 L1079.25 1137.96 L1081.81 1137.67 L1084.36 1137.40 L1086.91 1137.14 L1089.47 1136.89 L1092.02 1136.66 L1094.57 1136.45 L1097.12 1136.26 L1099.68 1136.09 L1102.23 1135.95 L1104.78 1135.82 L1107.34 1135.71 L1109.89 1135.59 L1112.44 1135.47 L1115.00 1135.33 L1117.55 1135.18 L1120.10 1134.99 L1122.65 1134.80 L1125.21 1134.57 L1127.76 1134.27 L1130.31 1133.86 L1132.87 1133.30 L1135.42 1132.56 L1137.97 1131.76 L1140.53 1130.93 L1143.08 1130.07 L1145.63 1129.21 L1148.18 1128.34 L1150.74 1127.47 L1153.29 1126.60 L1155.84 1125.73 L1158.40 1124.85 L1160.95 1123.98 L1163.50 1123.11 L1166.06 1122.27 L1168.61 1121.45 L1171.16 1120.69 L1173.72 1120.08 L1176.27 1119.61 L1178.82 1119.25 L1181.37 1118.98 L1183.93 1118.77 L1186.48 1118.58 L1189.03 1118.39 L1191.59 1118.19 L1194.14 1118.00 L1196.69 1117.80 L1199.24 1117.61 L1201.80 1117.42 L1203.50 1117.29 L1209.50 1116.82" fill="none" stroke="#ff0000" stroke-width="7.4" stroke-linejoin="round" clip-path="url(#cI)"/>
<path d="M778.00 1154.52 L780.55 1156.13 L783.11 1157.75 L785.66 1159.39 L788.21 1161.02 L790.76 1162.65 L793.32 1164.31 L795.87 1166.01 L798.42 1167.72 L800.98 1169.41 L803.53 1171.05 L806.08 1172.44 L808.64 1173.50 L811.19 1174.43 L813.74 1175.40 L816.29 1176.73 L818.85 1178.57 L821.40 1180.08 L823.95 1180.40 L826.51 1179.77 L829.06 1178.67 L831.61 1177.57 L834.17 1176.86 L836.72 1176.32 L839.27 1175.81 L841.83 1175.34 L844.38 1174.93 L846.93 1174.67 L849.48 1174.98 L852.04 1175.66 L854.59 1176.32 L857.14 1176.63 L859.70 1176.24 L862.25 1175.40 L864.80 1174.31 L867.36 1173.05 L869.91 1171.72 L872.46 1170.41 L875.01 1169.20 L877.57 1168.19 L880.12 1167.37 L882.67 1166.57 L885.23 1165.84 L887.78 1165.19 L890.33 1164.65 L892.88 1164.26 L895.44 1164.07 L897.99 1164.19 L900.54 1164.56 L903.10 1165.11 L905.65 1165.76 L908.20 1166.44 L910.76 1167.06 L913.31 1167.55 L915.86 1167.84 L918.41 1167.87 L920.97 1167.82 L923.52 1167.69 L926.07 1167.46 L928.63 1167.07 L931.18 1166.50 L933.73 1165.72 L936.29 1164.69 L938.84 1163.51 L941.39 1162.25 L943.94 1160.89 L946.50 1159.46 L949.05 1157.95 L951.60 1156.41 L954.16 1154.84 L956.71 1153.24 L959.26 1151.61 L961.82 1149.91 L964.37 1148.07 L966.92 1146.12 L969.48 1144.15 L972.03 1142.25 L974.58 1140.50 L977.13 1138.93 L979.69 1137.53 L982.24 1136.27 L984.79 1135.15 L987.35 1134.15 L989.90 1133.29 L992.45 1132.57 L995.00 1132.00 L997.56 1131.54 L1000.11 1131.21 L1002.66 1131.18 L1005.22 1131.35 L1007.77 1131.47 L1010.32 1131.27 L1012.88 1130.75 L1015.43 1130.19 L1017.98 1129.57 L1020.54 1128.89 L1023.09 1128.15 L1025.64 1127.35 L1028.19 1126.50 L1030.75 1125.62 L1033.30 1124.73 L1035.85 1123.84 L1038.41 1122.97 L1040.96 1122.14 L1043.51 1121.34 L1046.07 1120.56 L1048.62 1119.79 L1051.17 1119.04 L1053.72 1118.29 L1056.28 1117.54 L1058.83 1116.81 L1061.38 1116.10 L1063.94 1115.40 L1066.49 1114.73 L1069.04 1114.09 L1071.60 1113.47 L1074.15 1112.91 L1076.70 1112.40 L1079.25 1111.94 L1081.81 1111.53 L1084.36 1111.16 L1086.91 1110.84 L1089.47 1110.56 L1092.02 1110.28 L1094.57 1110.02 L1097.12 1109.75 L1099.68 1109.49 L1102.23 1109.23 L1104.78 1108.97 L1107.34 1108.71 L1109.89 1108.44 L1112.44 1108.17 L1115.00 1107.92 L1117.55 1107.66 L1120.10 1107.38 L1122.65 1107.07 L1125.21 1106.71 L1127.76 1106.27 L1130.31 1105.69 L1132.87 1105.00 L1135.42 1104.22 L1137.97 1103.40 L1140.53 1102.56 L1143.08 1101.74 L1145.63 1100.95 L1148.18 1100.13 L1150.74 1099.29 L1153.29 1098.45 L1155.84 1097.62 L1158.40 1096.83 L1160.95 1096.08 L1163.50 1095.40 L1166.06 1094.76 L1168.61 1094.18 L1171.16 1093.63 L1173.72 1093.13 L1176.27 1092.66 L1178.82 1092.22 L1181.37 1091.81 L1183.93 1091.42 L1186.48 1091.05 L1189.03 1090.68 L1191.59 1090.34 L1194.14 1090.01 L1196.69 1089.70 L1199.24 1089.40 L1201.80 1089.10 L1203.50 1088.91 L1209.50 1088.23" fill="none" stroke="#0000ff" stroke-width="8.0" stroke-linejoin="round" stroke-dasharray="23.6 20.2" clip-path="url(#cI)"/>
<path d="M778.00 1111.20 L780.55 1112.62 L783.11 1114.20 L785.66 1115.93 L788.21 1117.81 L790.76 1119.83 L793.32 1122.20 L795.87 1124.79 L798.42 1127.21 L800.98 1129.64 L803.53 1131.97 L806.08 1133.96 L808.64 1135.37 L811.19 1135.94 L813.74 1135.58 L816.29 1134.56 L818.85 1133.17 L821.40 1131.67 L823.95 1130.34 L826.51 1129.39 L829.06 1128.56 L831.61 1127.74 L834.17 1126.95 L836.72 1126.24 L839.27 1125.64 L841.83 1125.17 L844.38 1125.10 L846.93 1125.38 L849.48 1125.83 L852.04 1126.28 L854.59 1126.55 L857.14 1126.47 L859.70 1125.94 L862.25 1125.28 L864.80 1124.56 L867.36 1123.81 L869.91 1123.05 L872.46 1122.30 L875.01 1121.59 L877.57 1120.94 L880.12 1120.32 L882.67 1119.71 L885.23 1119.13 L887.78 1118.58 L890.33 1118.08 L892.88 1117.64 L895.44 1117.31 L897.99 1117.35 L900.54 1117.70 L903.10 1118.29 L905.65 1119.02 L908.20 1119.81 L910.76 1120.57 L913.31 1121.22 L915.86 1121.66 L918.41 1121.82 L920.97 1121.71 L923.52 1121.49 L926.07 1121.18 L928.63 1120.75 L931.18 1120.23 L933.73 1119.60 L936.29 1118.87 L938.84 1118.05 L941.39 1117.14 L943.94 1116.11 L946.50 1114.95 L949.05 1113.64 L951.60 1112.14 L954.16 1110.28 L956.71 1108.24 L959.26 1106.28 L961.82 1104.64 L964.37 1103.14 L966.92 1101.72 L969.48 1100.40 L972.03 1099.21 L974.58 1098.16 L977.13 1097.25 L979.69 1096.42 L982.24 1095.69 L984.79 1095.05 L987.35 1094.53 L989.90 1094.14 L992.45 1093.87 L995.00 1093.64 L997.56 1093.44 L1000.11 1093.26 L1002.66 1093.12 L1005.22 1093.03 L1007.77 1092.99 L1010.32 1092.95 L1012.88 1092.89 L1015.43 1092.78 L1017.98 1092.60 L1020.54 1092.28 L1023.09 1091.73 L1025.64 1090.87 L1028.19 1089.75 L1030.75 1088.52 L1033.30 1087.26 L1035.85 1085.99 L1038.41 1084.78 L1040.96 1083.59 L1043.51 1082.40 L1046.07 1081.26 L1048.62 1080.21 L1051.17 1079.31 L1053.72 1078.60 L1056.28 1078.02 L1058.83 1077.55 L1061.38 1077.14 L1063.94 1076.76 L1066.49 1076.38 L1069.04 1075.99 L1071.60 1075.61 L1074.15 1075.24 L1076.70 1074.90 L1079.25 1074.60 L1081.81 1074.33 L1084.36 1074.07 L1086.91 1073.82 L1089.47 1073.57 L1092.02 1073.32 L1094.57 1073.07 L1097.12 1072.83 L1099.68 1072.58 L1102.23 1072.32 L1104.78 1072.06 L1107.34 1071.81 L1109.89 1071.57 L1112.44 1071.32 L1115.00 1071.06 L1117.55 1070.77 L1120.10 1070.46 L1122.65 1070.12 L1125.21 1069.73 L1127.76 1069.26 L1130.31 1068.73 L1132.87 1068.16 L1135.42 1067.56 L1137.97 1066.94 L1140.53 1066.31 L1143.08 1065.71 L1145.63 1065.10 L1148.18 1064.48 L1150.74 1063.87 L1153.29 1063.25 L1155.84 1062.64 L1158.40 1062.04 L1160.95 1061.41 L1163.50 1060.77 L1166.06 1060.16 L1168.61 1059.60 L1171.16 1059.12 L1173.72 1058.77 L1176.27 1058.49 L1178.82 1058.23 L1181.37 1057.98 L1183.93 1057.74 L1186.48 1057.51 L1189.03 1057.29 L1191.59 1057.06 L1194.14 1056.82 L1196.69 1056.58 L1199.24 1056.33 L1201.80 1056.08 L1203.50 1055.92 L1209.50 1055.34" fill="none" stroke="#008000" stroke-width="7.4" stroke-linejoin="round" clip-path="url(#cI)"/>
<text class="sans" font-size="43.90" x="765.79" y="1360.20" fill="#262626">0</text>
<text class="sans" font-size="43.90" x="960.24" y="1360.20" fill="#262626">0.5</text>
<text class="sans" font-size="43.90" x="1191.29" y="1360.20" fill="#262626" clip-path="url(#t6)">1</text>
<text class="sans" font-size="43.90" x="718.77" y="1311.70" fill="#262626" clip-path="url(#t7)">-1</text>
<text class="sans" font-size="43.90" x="733.38" y="1191.75" fill="#262626">0</text>
<text class="sans" font-size="43.90" x="733.38" y="1071.80" fill="#262626" clip-path="url(#t8)">1</text>
</g>
</g>
<g id="panel-c">
<line x1="524.30" y1="1569.50" x2="524.30" y2="2132.50" stroke="#dfdfdf" stroke-width="6.65"/>
<line x1="842.60" y1="1569.50" x2="842.60" y2="2132.50" stroke="#dfdfdf" stroke-width="6.65"/>
<line x1="1160.90" y1="1569.50" x2="1160.90" y2="2132.50" stroke="#dfdfdf" stroke-width="6.65"/>
<line x1="1479.20" y1="1569.50" x2="1479.20" y2="2132.50" stroke="#dfdfdf" stroke-width="6.65"/>
<line x1="206.00" y1="1944.83" x2="1797.50" y2="1944.83" stroke="#dfdfdf" stroke-width="6.65"/>
<line x1="206.00" y1="1757.17" x2="1797.50" y2="1757.17" stroke="#dfdfdf" stroke-width="6.65"/>
<line x1="524.30" y1="2132.50" x2="524.30" y2="2113.30" stroke="#262626" stroke-width="6.65"/>
<line x1="524.30" y1="1569.50" x2="524.30" y2="1588.70" stroke="#262626" stroke-width="6.65"/>
<line x1="842.60" y1="2132.50" x2="842.60" y2="2113.30" stroke="#262626" stroke-width="6.65"/>
<line x1="842.60" y1="1569.50" x2="842.60" y2="1588.70" stroke="#262626" stroke-width="6.65"/>
<line x1="1160.90" y1="2132.50" x2="1160.90" y2="2113.30" stroke="#262626" stroke-width="6.65"/>
<line x1="1160.90" y1="1569.50" x2="1160.90" y2="1588.70" stroke="#262626" stroke-width="6.65"/>
<line x1="1479.20" y1="2132.50" x2="1479.20" y2="2113.30" stroke="#262626" stroke-width="6.65"/>
<line x1="1479.20" y1="1569.50" x2="1479.20" y2="1588.70" stroke="#262626" stroke-width="6.65"/>
<line x1="206.00" y1="1944.83" x2="225.20" y2="1944.83" stroke="#262626" stroke-width="6.65"/>
<line x1="1797.50" y1="1944.83" x2="1778.30" y2="1944.83" stroke="#262626" stroke-width="6.65"/>
<line x1="206.00" y1="1757.17" x2="225.20" y2="1757.17" stroke="#262626" stroke-width="6.65"/>
<line x1="1797.50" y1="1757.17" x2="1778.30" y2="1757.17" stroke="#262626" stroke-width="6.65"/>
<line x1="203.10" y1="1569.50" x2="1800.83" y2="1569.50" stroke="#262626" stroke-width="6.65"/>
<line x1="203.10" y1="2132.50" x2="1800.83" y2="2132.50" stroke="#262626" stroke-width="6.65"/>
<line x1="206.00" y1="1569.50" x2="206.00" y2="2132.50" stroke="#262626" stroke-width="5.8"/>
<line x1="1797.50" y1="1569.50" x2="1797.50" y2="2132.50" stroke="#262626" stroke-width="6.65"/>
<path d="M206.00 1734.79 L214.00 1732.86 L221.99 1730.97 L229.99 1729.13 L237.99 1727.32 L245.99 1725.56 L253.98 1723.83 L261.98 1722.14 L269.98 1720.48 L277.98 1718.86 L285.97 1717.27 L293.97 1715.71 L301.97 1714.17 L309.97 1712.67 L317.96 1711.19 L325.96 1709.74 L333.96 1708.32 L341.96 1706.92 L349.95 1705.54 L357.95 1704.19 L365.95 1702.86 L373.95 1701.55 L381.94 1700.26 L389.94 1698.99 L397.94 1697.74 L405.94 1696.51 L413.93 1695.29 L421.93 1694.10 L429.93 1692.92 L437.93 1691.76 L445.92 1690.61 L453.92 1689.48 L461.92 1688.37 L469.92 1687.27 L477.91 1686.19 L485.91 1685.12 L493.91 1684.06 L501.91 1683.02 L509.90 1681.99 L517.90 1680.98 L525.90 1679.97 L533.90 1678.98 L541.89 1678.00 L549.89 1677.03 L557.89 1676.08 L565.89 1675.13 L573.88 1674.20 L581.88 1673.27 L589.88 1672.36 L597.88 1671.46 L605.87 1670.56 L613.87 1669.68 L621.87 1668.80 L629.87 1667.94 L637.86 1667.08 L645.86 1666.23 L653.86 1665.40 L661.86 1664.57 L669.85 1663.74 L677.85 1662.93 L685.85 1662.13 L693.85 1661.33 L701.84 1660.54 L709.84 1659.76 L717.84 1658.98 L725.84 1658.21 L733.83 1657.45 L741.83 1656.70 L749.83 1655.95 L757.83 1655.22 L765.82 1654.48 L773.82 1653.76 L781.82 1653.04 L789.82 1652.32 L797.81 1651.61 L805.81 1650.91 L813.81 1650.22 L821.81 1649.53 L829.80 1648.84 L837.80 1648.17 L845.80 1647.49 L853.80 1646.83 L861.79 1646.17 L869.79 1645.51 L877.79 1644.86 L885.79 1644.21 L893.78 1643.57 L901.78 1642.94 L909.78 1642.31 L917.78 1641.68 L925.77 1641.06 L933.77 1640.44 L941.77 1639.83 L949.77 1639.22 L957.76 1638.62 L965.76 1638.02 L973.76 1637.43 L981.76 1636.84 L989.75 1636.25 L997.75 1635.67 L1005.75 1635.09 L1013.75 1634.52 L1021.74 1633.95 L1029.74 1633.39 L1037.74 1632.82 L1045.74 1632.27 L1053.73 1631.71 L1061.73 1631.16 L1069.73 1630.62 L1077.73 1630.07 L1085.72 1629.54 L1093.72 1629.00 L1101.72 1628.47 L1109.72 1627.94 L1117.71 1627.41 L1125.71 1626.89 L1133.71 1626.37 L1141.71 1625.86 L1149.70 1625.35 L1157.70 1624.84 L1165.70 1624.33 L1173.70 1623.83 L1181.69 1623.33 L1189.69 1622.83 L1197.69 1622.34 L1205.69 1621.85 L1213.68 1621.36 L1221.68 1620.88 L1229.68 1620.40 L1237.68 1619.92 L1245.67 1619.44 L1253.67 1618.97 L1261.67 1618.50 L1269.67 1618.03 L1277.66 1617.56 L1285.66 1617.10 L1293.66 1616.64 L1301.66 1616.19 L1309.65 1615.73 L1317.65 1615.28 L1325.65 1614.83 L1333.65 1614.38 L1341.64 1613.94 L1349.64 1613.49 L1357.64 1613.05 L1365.64 1612.62 L1373.63 1612.18 L1381.63 1611.75 L1389.63 1611.32 L1397.63 1610.89 L1405.62 1610.46 L1413.62 1610.04 L1421.62 1609.62 L1429.62 1609.20 L1437.61 1608.78 L1445.61 1608.36 L1453.61 1607.95 L1461.61 1607.54 L1469.60 1607.13 L1477.60 1606.72 L1485.60 1606.32 L1493.60 1605.91 L1501.59 1605.51 L1509.59 1605.11 L1517.59 1604.72 L1525.59 1604.32 L1533.58 1603.93 L1541.58 1603.54 L1549.58 1603.15 L1557.58 1602.76 L1565.57 1602.37 L1573.57 1601.99 L1581.57 1601.61 L1589.57 1601.23 L1597.56 1600.85 L1605.56 1600.47 L1613.56 1600.10 L1621.56 1599.72 L1629.55 1599.35 L1637.55 1598.98 L1645.55 1598.61 L1653.55 1598.25 L1661.54 1597.88 L1669.54 1597.52 L1677.54 1597.15 L1685.54 1596.79 L1693.53 1596.44 L1701.53 1596.08 L1709.53 1595.72 L1717.53 1595.37 L1725.52 1595.02 L1733.52 1594.67 L1741.52 1594.32 L1749.52 1593.97 L1757.51 1593.62 L1765.51 1593.28 L1773.51 1592.93 L1781.51 1592.59 L1789.50 1592.25 L1797.50 1591.91 L1803.50 1591.66" fill="none" stroke="#000000" stroke-width="8.4" stroke-linejoin="round" clip-path="url(#cC)"/>
<path d="M206.00 2017.18 L214.00 2014.23 L221.99 2011.30 L229.99 2008.39 L237.99 2005.49 L245.99 2002.61 L253.98 1999.75 L261.98 1996.91 L269.98 1994.08 L277.98 1991.28 L285.97 1988.49 L293.97 1985.72 L301.97 1982.97 L309.97 1980.24 L317.96 1977.53 L325.96 1974.84 L333.96 1972.17 L341.96 1969.52 L349.95 1966.89 L357.95 1964.28 L365.95 1961.69 L373.95 1959.12 L381.94 1956.58 L389.94 1954.06 L397.94 1951.56 L405.94 1949.08 L413.93 1946.62 L421.93 1944.19 L429.93 1941.78 L437.93 1939.39 L445.92 1937.03 L453.92 1934.69 L461.92 1932.38 L469.92 1930.09 L477.91 1927.82 L485.91 1925.58 L493.91 1923.37 L501.91 1921.18 L509.90 1919.01 L517.90 1916.87 L525.90 1914.76 L533.90 1912.68 L541.89 1910.62 L549.89 1908.58 L557.89 1906.57 L565.89 1904.58 L573.88 1902.62 L581.88 1900.68 L589.88 1898.77 L597.88 1896.88 L605.87 1895.00 L613.87 1893.15 L621.87 1891.33 L629.87 1889.52 L637.86 1887.73 L645.86 1885.96 L653.86 1884.21 L661.86 1882.48 L669.85 1880.77 L677.85 1879.07 L685.85 1877.40 L693.85 1875.74 L701.84 1874.09 L709.84 1872.46 L717.84 1870.85 L725.84 1869.25 L733.83 1867.67 L741.83 1866.10 L749.83 1864.54 L757.83 1863.00 L765.82 1861.46 L773.82 1859.94 L781.82 1858.44 L789.82 1856.94 L797.81 1855.45 L805.81 1853.98 L813.81 1852.51 L821.81 1851.05 L829.80 1849.60 L837.80 1848.16 L845.80 1846.73 L853.80 1845.31 L861.79 1843.89 L869.79 1842.48 L877.79 1841.07 L885.79 1839.68 L893.78 1838.29 L901.78 1836.91 L909.78 1835.53 L917.78 1834.17 L925.77 1832.81 L933.77 1831.46 L941.77 1830.11 L949.77 1828.78 L957.76 1827.45 L965.76 1826.12 L973.76 1824.81 L981.76 1823.50 L989.75 1822.20 L997.75 1820.91 L1005.75 1819.62 L1013.75 1818.34 L1021.74 1817.07 L1029.74 1815.81 L1037.74 1814.55 L1045.74 1813.30 L1053.73 1812.05 L1061.73 1810.82 L1069.73 1809.59 L1077.73 1808.37 L1085.72 1807.15 L1093.72 1805.95 L1101.72 1804.75 L1109.72 1803.56 L1117.71 1802.37 L1125.71 1801.19 L1133.71 1800.02 L1141.71 1798.85 L1149.70 1797.70 L1157.70 1796.55 L1165.70 1795.40 L1173.70 1794.27 L1181.69 1793.14 L1189.69 1792.02 L1197.69 1790.90 L1205.69 1789.79 L1213.68 1788.69 L1221.68 1787.59 L1229.68 1786.50 L1237.68 1785.42 L1245.67 1784.35 L1253.67 1783.28 L1261.67 1782.21 L1269.67 1781.16 L1277.66 1780.11 L1285.66 1779.06 L1293.66 1778.02 L1301.66 1776.99 L1309.65 1775.96 L1317.65 1774.94 L1325.65 1773.93 L1333.65 1772.92 L1341.64 1771.92 L1349.64 1770.92 L1357.64 1769.93 L1365.64 1768.94 L1373.63 1767.96 L1381.63 1766.98 L1389.63 1766.01 L1397.63 1765.05 L1405.62 1764.09 L1413.62 1763.14 L1421.62 1762.19 L1429.62 1761.24 L1437.61 1760.30 L1445.61 1759.37 L1453.61 1758.44 L1461.61 1757.51 L1469.60 1756.59 L1477.60 1755.68 L1485.60 1754.77 L1493.60 1753.86 L1501.59 1752.96 L1509.59 1752.06 L1517.59 1751.17 L1525.59 1750.28 L1533.58 1749.40 L1541.58 1748.52 L1549.58 1747.64 L1557.58 1746.77 L1565.57 1745.90 L1573.57 1745.04 L1581.57 1744.18 L1589.57 1743.32 L1597.56 1742.47 L1605.56 1741.62 L1613.56 1740.78 L1621.56 1739.94 L1629.55 1739.10 L1637.55 1738.26 L1645.55 1737.43 L1653.55 1736.60 L1661.54 1735.78 L1669.54 1734.96 L1677.54 1734.14 L1685.54 1733.32 L1693.53 1732.51 L1701.53 1731.70 L1709.53 1730.90 L1717.53 1730.09 L1725.52 1729.29 L1733.52 1728.50 L1741.52 1727.70 L1749.52 1726.91 L1757.51 1726.12 L1765.51 1725.33 L1773.51 1724.55 L1781.51 1723.76 L1789.50 1722.98 L1797.50 1722.20 L1803.50 1721.62" fill="none" stroke="#ff0000" stroke-width="8.4" stroke-linejoin="round" clip-path="url(#cC)"/>
<text class="sans" font-size="67.40" x="187.26" y="2226.20" fill="#262626">0</text>
<text class="sans" font-size="67.40" x="505.56" y="2226.20" fill="#262626">2</text>
<text class="sans" font-size="67.40" x="823.86" y="2226.20" fill="#262626">4</text>
<text class="sans" font-size="67.40" x="1142.16" y="2226.20" fill="#262626">6</text>
<text class="sans" font-size="67.40" x="1460.46" y="2226.20" fill="#262626">8</text>
<text class="sans" font-size="67.40" x="1760.02" y="2226.20" fill="#262626" clip-path="url(#t9)">10</text>
<text class="sans" font-size="67.40" x="120.37" y="2158.70" fill="#262626" clip-path="url(#t10)">-1</text>
<text class="sans" font-size="67.40" x="142.82" y="1971.03" fill="#262626">0</text>
<text class="sans" font-size="67.40" x="142.82" y="1783.37" fill="#262626" clip-path="url(#t11)">1</text>
<text class="sans" font-size="67.40" x="142.82" y="1595.70" fill="#262626">2</text>
</g>
<text class="sans" font-size="66.55" transform="translate(238.89 571.17) scale(0.9729 1.0000)" fill="#000000">(a)</text>
<text class="sans" font-size="66.66" transform="translate(238.89 899.10) scale(0.9713 1.0000)" fill="#000000">(b)</text>
<text class="sans" font-size="66.44" transform="translate(238.90 2102.14) scale(0.9706 1.0000)" fill="#000000">(c)</text>
<g transform="translate(101.00 504.00) rotate(-90)" fill="#262626">
<text class="rm" font-size="72.55" transform="translate(-1.46 -0.66) scale(1.0025 1.0000)">log</text>
<text class="rm" font-size="51.87" transform="translate(90.61 11.09) scale(0.9860 1.0000)">10</text>
<text class="it" font-size="70.51" transform="translate(145.96 -0.01) scale(1.0255 1.0000)">g</text>
<text class="rm" font-size="56.47" transform="translate(184.86 -26.02) scale(0.9033 1.0000)">(</text>
<text class="rm" font-size="52.26" transform="translate(202.44 -26.40) scale(1.0263 1.0000)">2</text>
<text class="rm" font-size="56.47" transform="translate(228.46 -26.02) scale(0.9033 1.0000)">)</text>
<text class="rm" font-size="80.73" transform="translate(255.37 0.91) scale(0.8537 1.0000)">(</text>
<text class="it" font-size="70.19" transform="translate(278.82 0.31) scale(1.4123 1.0000)" stroke="#ffffff" stroke-width="0.82">τ</text>
<text class="rm" font-size="80.73" transform="translate(321.85 0.91) scale(0.8247 1.0000)">)</text>
</g>
<g transform="translate(78.90 1271.10) rotate(-90)" fill="#262626">
<text class="rm" font-size="72.55" transform="translate(-1.46 -0.66) scale(1.0025 1.0000)">log</text>
<text class="rm" font-size="51.87" transform="translate(90.61 11.09) scale(0.9860 1.0000)">10</text>
<text class="it" font-size="70.51" transform="translate(145.96 -0.01) scale(1.0255 1.0000)">g</text>
<text class="rm" font-size="56.47" transform="translate(184.86 -26.02) scale(0.9033 1.0000)">(</text>
<text class="rm" font-size="51.50" transform="translate(202.31 -26.90) scale(1.0107 1.0000)">3</text>
<text class="rm" font-size="56.47" transform="translate(228.46 -26.02) scale(0.9033 1.0000)">)</text>
<text class="rm" font-size="80.73" transform="translate(255.37 0.91) scale(0.8537 1.0000)">(</text>
<text class="it" font-size="70.19" transform="translate(278.82 0.31) scale(1.4123 1.0000)" stroke="#ffffff" stroke-width="0.82">τ</text>
<text class="rm" font-size="80.73" transform="translate(321.85 0.91) scale(0.8247 1.0000)">)</text>
</g>
<g transform="translate(78.90 2050.40) rotate(-90)" fill="#262626">
<text class="rm" font-size="72.55" transform="translate(-1.46 -0.66) scale(1.0025 1.0000)">log</text>
<text class="rm" font-size="51.87" transform="translate(90.61 11.09) scale(0.9860 1.0000)">10</text>
<text class="it" font-size="70.51" transform="translate(145.96 -0.01) scale(1.0255 1.0000)">g</text>
<text class="rm" font-size="56.47" transform="translate(185.78 -26.02) scale(0.8137 1.0000)">(</text>
<text class="it" font-size="49.87" transform="translate(201.27 -26.40) scale(1.3135 1.0000)" stroke="#ffffff" stroke-width="0.63">n</text>
<text class="rm" font-size="56.47" transform="translate(234.23 -26.02) scale(0.8619 1.0000)">)</text>
<text class="rm" font-size="80.62" transform="translate(260.91 1.04) scale(0.8452 1.0000)">(</text>
<text class="rm" font-size="73.65" transform="translate(284.96 0.08) scale(0.9771 1.0000)">0</text>
<text class="rm" font-size="80.62" transform="translate(323.60 1.04) scale(0.8065 1.0000)">)</text>
<text class="it" font-size="47.41" transform="translate(350.88 10.64) scale(1.2442 1.0000)" stroke="#ffffff" stroke-width="0.49">ss</text>
</g>
<text class="it" font-size="71.44" transform="translate(940.34 764.79) scale(1.3612 1.0000)" fill="#262626" stroke="#ffffff" stroke-width="0.72">γ</text>
<text class="it" font-size="49.45" transform="translate(977.85 776.00) scale(1.3125 1.0000)" fill="#262626" stroke="#ffffff" stroke-width="0.63">m</text>
<text class="it" font-size="69.76" transform="translate(1026.84 765.02) scale(1.4092 1.0000)" fill="#262626" stroke="#ffffff" stroke-width="0.82">τ</text>
<text class="it" font-size="70.85" transform="translate(934.54 1520.42) scale(1.3727 1.0000)" fill="#262626" stroke="#ffffff" stroke-width="0.75">γ</text>
<text class="it" font-size="50.51" transform="translate(972.07 1532.00) scale(1.2788 1.0000)" fill="#262626" stroke="#ffffff" stroke-width="0.56">m</text>
<text class="it" font-size="70.40" transform="translate(1021.05 1521.11) scale(1.3886 1.0000)" fill="#262626" stroke="#ffffff" stroke-width="0.78">τ</text>
<text class="it" font-size="71.74" transform="translate(893.12 2276.53) scale(1.3731 1.0000)" fill="#262626" stroke="#ffffff" stroke-width="0.75">γ</text>
<text class="it" font-size="49.67" transform="translate(934.73 2287.90) scale(1.1334 1.0000)" fill="#262626" stroke="#ffffff" stroke-width="0.27">z</text>
<text class="rm" font-size="105.99" transform="translate(965.30 2291.66) scale(0.9712 1.0000)" fill="#262626">/</text>
<text class="it" font-size="71.74" transform="translate(996.92 2276.53) scale(1.3766 1.0000)" fill="#262626" stroke="#ffffff" stroke-width="0.75">γ</text>
<text class="it" font-size="49.45" transform="translate(1034.85 2287.90) scale(1.3157 1.0000)" fill="#262626" stroke="#ffffff" stroke-width="0.63">m</text>
<line x1="1056.90" y1="129.47" x2="1223.10" y2="129.47" stroke="#000000" stroke-width="7.05" stroke-dasharray="23.1 3.9 12.2 4.8"/>
<line x1="1056.90" y1="197.56" x2="1223.10" y2="197.56" stroke="#ff0000" stroke-width="7.05"/>
<line x1="1056.90" y1="265.55" x2="1223.10" y2="265.55" stroke="#0000ff" stroke-width="9.0" stroke-dasharray="34.1 31.9"/>
<line x1="1056.90" y1="333.70" x2="1223.10" y2="333.70" stroke="#008000" stroke-width="7.05"/>
<text class="it" font-size="54.62" transform="translate(1233.63 143.07) scale(1.3893 1.0000)" fill="#000000" stroke="#ffffff" stroke-width="0.78">γ</text>
<text class="it" font-size="41.83" transform="translate(1265.68 151.90) scale(1.0310 1.0000)" fill="#000000">z</text>
<text class="rm" font-size="57.20" transform="translate(1299.72 147.94) scale(1.4314 1.0000)" fill="#000000">=</text>
<text class="rm" font-size="57.94" transform="translate(1358.74 143.53) scale(1.0221 1.0000)" fill="#000000">0</text>
<text class="it" font-size="54.62" transform="translate(1233.63 211.24) scale(1.3893 1.0000)" fill="#000000" stroke="#ffffff" stroke-width="0.78">γ</text>
<text class="it" font-size="41.83" transform="translate(1265.68 220.07) scale(1.0310 1.0000)" fill="#000000">z</text>
<text class="rm" font-size="57.20" transform="translate(1299.72 216.11) scale(1.4314 1.0000)" fill="#000000">=</text>
<text class="it" font-size="54.62" transform="translate(1358.94 211.24) scale(1.3755 1.0000)" fill="#000000" stroke="#ffffff" stroke-width="0.75">γ</text>
<text class="it" font-size="39.90" transform="translate(1387.47 219.77) scale(1.2687 1.0000)" fill="#000000" stroke="#ffffff" stroke-width="0.54">m</text>
<text class="it" font-size="54.62" transform="translate(1233.63 279.41) scale(1.3893 1.0000)" fill="#000000" stroke="#ffffff" stroke-width="0.78">γ</text>
<text class="it" font-size="41.83" transform="translate(1265.68 288.24) scale(1.0310 1.0000)" fill="#000000">z</text>
<text class="rm" font-size="57.20" transform="translate(1299.72 284.28) scale(1.4314 1.0000)" fill="#000000">=</text>
<text class="rm" font-size="55.88" transform="translate(1358.64 279.24) scale(1.0847 1.0000)" fill="#000000">2</text>
<text class="it" font-size="54.62" transform="translate(1386.84 279.41) scale(1.3755 1.0000)" fill="#000000" stroke="#ffffff" stroke-width="0.75">γ</text>
<text class="it" font-size="39.90" transform="translate(1414.88 287.94) scale(1.2648 1.0000)" fill="#000000" stroke="#ffffff" stroke-width="0.53">m</text>
<text class="it" font-size="54.62" transform="translate(1233.63 347.58) scale(1.3893 1.0000)" fill="#000000" stroke="#ffffff" stroke-width="0.78">γ</text>
<text class="it" font-size="41.83" transform="translate(1265.68 356.41) scale(1.0310 1.0000)" fill="#000000">z</text>
<text class="rm" font-size="57.20" transform="translate(1299.72 352.45) scale(1.4314 1.0000)" fill="#000000">=</text>
<text class="rm" font-size="56.21" transform="translate(1360.28 347.41) scale(0.9299 1.0000)" fill="#000000">4</text>
<text class="it" font-size="54.62" transform="translate(1386.84 347.58) scale(1.3755 1.0000)" fill="#000000" stroke="#ffffff" stroke-width="0.75">γ</text>
<text class="it" font-size="39.90" transform="translate(1414.88 356.11) scale(1.2648 1.0000)" fill="#000000" stroke="#ffffff" stroke-width="0.53">m</text>
<line x1="1360.97" y1="1070.02" x2="1527.17" y2="1070.02" stroke="#000000" stroke-width="7.9" stroke-dasharray="23.1 3.9 12.2 4.8"/>
<line x1="1360.97" y1="1138.04" x2="1527.17" y2="1138.04" stroke="#ff0000" stroke-width="7.9"/>
<line x1="1360.97" y1="1206.55" x2="1527.17" y2="1206.55" stroke="#0000ff" stroke-width="9.0" stroke-dasharray="34.1 31.9"/>
<line x1="1360.97" y1="1274.60" x2="1527.17" y2="1274.60" stroke="#008000" stroke-width="7.9"/>
<text class="it" font-size="54.62" transform="translate(1537.69 1084.07) scale(1.3893 1.0000)" fill="#000000" stroke="#ffffff" stroke-width="0.78">γ</text>
<text class="it" font-size="41.83" transform="translate(1569.74 1092.90) scale(1.0310 1.0000)" fill="#000000">z</text>
<text class="rm" font-size="57.20" transform="translate(1603.78 1088.94) scale(1.4314 1.0000)" fill="#000000">=</text>
<text class="rm" font-size="57.94" transform="translate(1662.80 1084.53) scale(1.0221 1.0000)" fill="#000000">0</text>
<text class="it" font-size="54.62" transform="translate(1537.69 1152.24) scale(1.3893 1.0000)" fill="#000000" stroke="#ffffff" stroke-width="0.78">γ</text>
<text class="it" font-size="41.83" transform="translate(1569.74 1161.07) scale(1.0310 1.0000)" fill="#000000">z</text>
<text class="rm" font-size="57.20" transform="translate(1603.78 1157.11) scale(1.4314 1.0000)" fill="#000000">=</text>
<text class="it" font-size="54.62" transform="translate(1663.00 1152.24) scale(1.3755 1.0000)" fill="#000000" stroke="#ffffff" stroke-width="0.75">γ</text>
<text class="it" font-size="39.90" transform="translate(1691.53 1160.77) scale(1.2687 1.0000)" fill="#000000" stroke="#ffffff" stroke-width="0.54">m</text>
<text class="it" font-size="54.62" transform="translate(1537.69 1220.41) scale(1.3893 1.0000)" fill="#000000" stroke="#ffffff" stroke-width="0.78">γ</text>
<text class="it" font-size="41.83" transform="translate(1569.74 1229.24) scale(1.0310 1.0000)" fill="#000000">z</text>
<text class="rm" font-size="57.20" transform="translate(1603.78 1225.28) scale(1.4314 1.0000)" fill="#000000">=</text>
<text class="rm" font-size="55.88" transform="translate(1662.70 1220.24) scale(1.0847 1.0000)" fill="#000000">2</text>
<text class="it" font-size="54.62" transform="translate(1690.90 1220.41) scale(1.3755 1.0000)" fill="#000000" stroke="#ffffff" stroke-width="0.75">γ</text>
<text class="it" font-size="39.90" transform="translate(1718.94 1228.94) scale(1.2648 1.0000)" fill="#000000" stroke="#ffffff" stroke-width="0.53">m</text>
<text class="it" font-size="54.62" transform="translate(1537.69 1288.58) scale(1.3893 1.0000)" fill="#000000" stroke="#ffffff" stroke-width="0.78">γ</text>
<text class="it" font-size="41.83" transform="translate(1569.74 1297.41) scale(1.0310 1.0000)" fill="#000000">z</text>
<text class="rm" font-size="57.20" transform="translate(1603.78 1293.45) scale(1.4314 1.0000)" fill="#000000">=</text>
<text class="rm" font-size="56.21" transform="translate(1664.34 1288.41) scale(0.9299 1.0000)" fill="#000000">4</text>
<text class="it" font-size="54.62" transform="translate(1690.90 1288.58) scale(1.3755 1.0000)" fill="#000000" stroke="#ffffff" stroke-width="0.75">γ</text>
<text class="it" font-size="39.90" transform="translate(1718.94 1297.11) scale(1.2648 1.0000)" fill="#000000" stroke="#ffffff" stroke-width="0.53">m</text>
<line x1="1310.90" y1="1883.70" x2="1477.10" y2="1883.70" stroke="#000000" stroke-width="8.0"/>
<line x1="1310.90" y1="1952.90" x2="1477.10" y2="1952.90" stroke="#ff0000" stroke-width="8.0"/>
<text class="it" font-size="55.82" transform="translate(1487.65 1898.60) scale(1.3304 1.0000)" fill="#000000" stroke="#ffffff" stroke-width="0.66">n</text>
<text class="rm" font-size="57.20" transform="translate(1536.24 1903.64) scale(1.4239 1.0000)" fill="#000000">=</text>
<text class="rm" font-size="57.24" transform="translate(1595.40 1898.60) scale(1.0328 1.0000)" fill="#000000">2</text>
<text class="it" font-size="55.82" transform="translate(1487.65 1967.80) scale(1.3304 1.0000)" fill="#000000" stroke="#ffffff" stroke-width="0.66">n</text>
<text class="rm" font-size="57.20" transform="translate(1536.24 1972.84) scale(1.4239 1.0000)" fill="#000000">=</text>
<text class="rm" font-size="57.90" transform="translate(1595.25 1968.23) scale(0.9909 1.0000)" fill="#000000">3</text>
</svg>
</body>
</html>
